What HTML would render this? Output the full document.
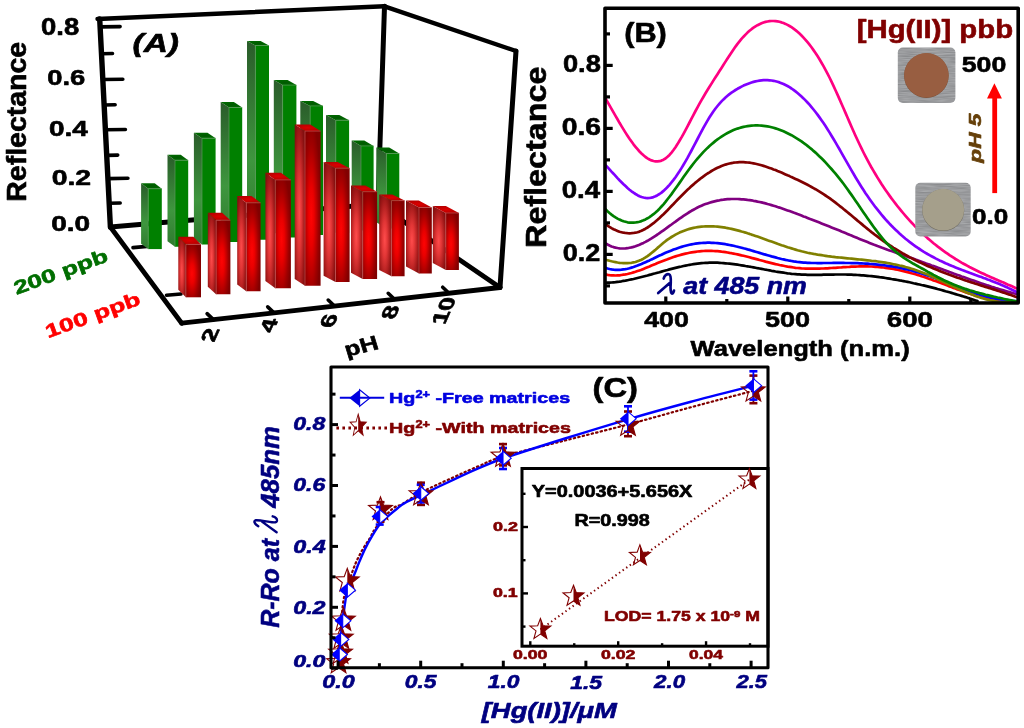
<!DOCTYPE html>
<html><head><meta charset="utf-8"><style>
html,body{margin:0;padding:0;background:#fff;width:1024px;height:728px;overflow:hidden}
svg{display:block;will-change:transform}
</style></head><body>
<svg width="1024" height="728" viewBox="0 0 1024 728">
<defs>
<radialGradient id="rf" cx="0.4" cy="0.55" r="0.62"><stop offset="0" stop-color="#ff0404"/><stop offset="0.3" stop-color="#ea0000"/><stop offset="0.75" stop-color="#a00000"/><stop offset="1" stop-color="#820000"/></radialGradient>
<radialGradient id="rl" cx="0.45" cy="0.55" r="0.62"><stop offset="0" stop-color="#ff4c4c"/><stop offset="0.35" stop-color="#e23636"/><stop offset="0.8" stop-color="#a01818"/><stop offset="1" stop-color="#841010"/></radialGradient>
<radialGradient id="rt" cx="0.5" cy="0.5" r="0.7"><stop offset="0" stop-color="#dc0000"/><stop offset="1" stop-color="#a80000"/></radialGradient>
<linearGradient id="gl" x1="0" y1="0" x2="0" y2="1"><stop offset="0" stop-color="#2a5c2a"/><stop offset="0.6" stop-color="#3e963e"/><stop offset="1" stop-color="#2f7a2f"/></linearGradient>
<radialGradient id="gt" cx="0.5" cy="0.5" r="0.7"><stop offset="0" stop-color="#005800"/><stop offset="1" stop-color="#007000"/></radialGradient>
</defs>
<line x1="99.7" y1="19" x2="110.4" y2="227" stroke="#000" stroke-width="5.4" stroke-linecap="round" />
<line x1="97.5" y1="19" x2="384.5" y2="6.3" stroke="#000" stroke-width="4.4" stroke-linecap="round" />
<line x1="384.5" y1="6.3" x2="516" y2="51" stroke="#000" stroke-width="4.4" stroke-linecap="round" />
<line x1="384.5" y1="6.3" x2="378" y2="204" stroke="#000" stroke-width="5.0" stroke-linecap="round" />
<line x1="516" y1="51" x2="500" y2="287.5" stroke="#000" stroke-width="5.0" stroke-linecap="round" />
<line x1="110.4" y1="227" x2="378" y2="204" stroke="#000" stroke-width="4.8" stroke-linecap="round" />
<line x1="378" y1="204" x2="500" y2="287.5" stroke="#000" stroke-width="4.8" stroke-linecap="round" />
<line x1="100.11" y1="26.9" x2="120.11" y2="26.6" stroke="#000" stroke-width="3.6" stroke-linecap="round" />
<line x1="102.81" y1="79.5" x2="122.81" y2="79.2" stroke="#000" stroke-width="3.6" stroke-linecap="round" />
<line x1="105.4" y1="129.8" x2="125.4" y2="129.5" stroke="#000" stroke-width="3.6" stroke-linecap="round" />
<line x1="107.91" y1="178.6" x2="127.91" y2="178.3" stroke="#000" stroke-width="3.6" stroke-linecap="round" />
<line x1="101.49" y1="53.75" x2="112.49" y2="53.45" stroke="#000" stroke-width="3.6" stroke-linecap="round" />
<line x1="104.12" y1="105" x2="115.12" y2="104.7" stroke="#000" stroke-width="3.6" stroke-linecap="round" />
<line x1="106.72" y1="155.4" x2="117.72" y2="155.1" stroke="#000" stroke-width="3.6" stroke-linecap="round" />
<line x1="109.18" y1="203.3" x2="120.18" y2="203" stroke="#000" stroke-width="3.6" stroke-linecap="round" />
<line x1="133" y1="247.6" x2="147" y2="246.4" stroke="#000" stroke-width="3.6" stroke-linecap="round" />
<line x1="166.5" y1="295.2" x2="181" y2="294" stroke="#000" stroke-width="3.6" stroke-linecap="round" />
<polygon points="141.1,183.3 148.2,188.7 148.2,249.09 141.1,243.69" fill="url(#gl)" />
<polygon points="148.2,188.7 161.8,188.7 161.8,249.09 148.2,249.09" fill="#008000" />
<polygon points="141.1,183.3 154.7,183.3 161.8,188.7 148.2,188.7" fill="url(#gt)" />
<polyline points="148.2,249.09 148.2,188.7 161.8,188.7" fill="none" stroke="#5a9a5a" stroke-width="0.7"/>
<polygon points="167.5,154.7 175,160.2 175,246.77 167.5,241.27" fill="url(#gl)" />
<polygon points="175,160.2 188.2,160.2 188.2,246.77 175,246.77" fill="#008000" />
<polygon points="167.5,154.7 180.7,154.7 188.2,160.2 175,160.2" fill="url(#gt)" />
<polyline points="175,246.77 175,160.2 188.2,160.2" fill="none" stroke="#5a9a5a" stroke-width="0.7"/>
<polygon points="193.9,132.7 202,138.2 202,244.4 193.9,238.9" fill="url(#gl)" />
<polygon points="202,138.2 215.6,138.2 215.6,244.4 202,244.4" fill="#008000" />
<polygon points="193.9,132.7 207.5,132.7 215.6,138.2 202,138.2" fill="url(#gt)" />
<polyline points="202,244.4 202,138.2 215.6,138.2" fill="none" stroke="#5a9a5a" stroke-width="0.7"/>
<polygon points="220.7,102 229,107.5 229,242.07 220.7,236.57" fill="url(#gl)" />
<polygon points="229,107.5 242.2,107.5 242.2,242.07 229,242.07" fill="#008000" />
<polygon points="220.7,102 233.9,102 242.2,107.5 229,107.5" fill="url(#gt)" />
<polyline points="229,242.07 229,107.5 242.2,107.5" fill="none" stroke="#5a9a5a" stroke-width="0.7"/>
<polygon points="247,41.1 255.4,45.5 255.4,239.76 247,235.36" fill="url(#gl)" />
<polygon points="255.4,45.5 269,45.5 269,239.76 255.4,239.76" fill="#008000" />
<polygon points="247,41.1 260.6,41.1 269,45.5 255.4,45.5" fill="url(#gt)" />
<polyline points="255.4,239.76 255.4,45.5 269,45.5" fill="none" stroke="#5a9a5a" stroke-width="0.7"/>
<polygon points="273.8,80 282.6,85.1 282.6,237.38 273.8,232.28" fill="url(#gl)" />
<polygon points="282.6,85.1 296.4,85.1 296.4,237.38 282.6,237.38" fill="#008000" />
<polygon points="273.8,80 287.6,80 296.4,85.1 282.6,85.1" fill="url(#gt)" />
<polyline points="282.6,237.38 282.6,85.1 296.4,85.1" fill="none" stroke="#5a9a5a" stroke-width="0.7"/>
<polygon points="300.3,100.9 310.1,105.9 310.1,235.03 300.3,230.03" fill="url(#gl)" />
<polygon points="310.1,105.9 323,105.9 323,235.03 310.1,235.03" fill="#008000" />
<polygon points="300.3,100.9 313.2,100.9 323,105.9 310.1,105.9" fill="url(#gt)" />
<polyline points="310.1,235.03 310.1,105.9 323,105.9" fill="none" stroke="#5a9a5a" stroke-width="0.7"/>
<polygon points="326,114.9 335.8,120.2 335.8,232.78 326,227.48" fill="url(#gl)" />
<polygon points="335.8,120.2 349.1,120.2 349.1,232.78 335.8,232.78" fill="#008000" />
<polygon points="326,114.9 339.3,114.9 349.1,120.2 335.8,120.2" fill="url(#gt)" />
<polyline points="335.8,232.78 335.8,120.2 349.1,120.2" fill="none" stroke="#5a9a5a" stroke-width="0.7"/>
<polygon points="351.7,140.6 361,145.9 361,230.61 351.7,225.31" fill="url(#gl)" />
<polygon points="361,145.9 373.6,145.9 373.6,230.61 361,230.61" fill="#008000" />
<polygon points="351.7,140.6 364.3,140.6 373.6,145.9 361,145.9" fill="url(#gt)" />
<polyline points="361,230.61 361,145.9 373.6,145.9" fill="none" stroke="#5a9a5a" stroke-width="0.7"/>
<polygon points="376.3,147.4 386.4,153.5 386.4,228.39 376.3,222.29" fill="url(#gl)" />
<polygon points="386.4,153.5 399.3,153.5 399.3,228.39 386.4,228.39" fill="#008000" />
<polygon points="376.3,147.4 389.2,147.4 399.3,153.5 386.4,153.5" fill="url(#gt)" />
<polyline points="386.4,228.39 386.4,153.5 399.3,153.5" fill="none" stroke="#5a9a5a" stroke-width="0.7"/>
<polygon points="178.3,236.8 185.9,244.4 185.9,297.3 178.3,289.7" fill="url(#rl)" />
<polygon points="185.9,244.4 201,244.4 201,297.3 185.9,297.3" fill="url(#rf)" />
<polygon points="178.3,236.8 193.4,236.8 201,244.4 185.9,244.4" fill="url(#rt)" />
<polyline points="185.9,297.3 185.9,244.4 201,244.4" fill="none" stroke="#c05050" stroke-width="0.7"/>
<polygon points="207.8,212.7 216.1,220.2 216.1,294.2 207.8,286.7" fill="url(#rl)" />
<polygon points="216.1,220.2 230.4,220.2 230.4,294.2 216.1,294.2" fill="url(#rf)" />
<polygon points="207.8,212.7 222.1,212.7 230.4,220.2 216.1,220.2" fill="url(#rt)" />
<polyline points="216.1,294.2 216.1,220.2 230.4,220.2" fill="none" stroke="#c05050" stroke-width="0.7"/>
<polygon points="237.2,196 246.3,202.8 246.3,291.2 237.2,284.4" fill="url(#rl)" />
<polygon points="246.3,202.8 260.6,202.8 260.6,291.2 246.3,291.2" fill="url(#rf)" />
<polygon points="237.2,196 251.5,196 260.6,202.8 246.3,202.8" fill="url(#rt)" />
<polyline points="246.3,291.2 246.3,202.8 260.6,202.8" fill="none" stroke="#c05050" stroke-width="0.7"/>
<polygon points="265.4,172.7 275.3,179.9 275.3,288.3 265.4,281.1" fill="url(#rl)" />
<polygon points="275.3,179.9 290.9,179.9 290.9,288.3 275.3,288.3" fill="url(#rf)" />
<polygon points="265.4,172.7 281,172.7 290.9,179.9 275.3,179.9" fill="url(#rt)" />
<polyline points="275.3,288.3 275.3,179.9 290.9,179.9" fill="none" stroke="#c05050" stroke-width="0.7"/>
<polygon points="294.7,124.4 305,131.1 305,285.8 294.7,279.1" fill="url(#rl)" />
<polygon points="305,131.1 320.6,131.1 320.6,285.8 305,285.8" fill="url(#rf)" />
<polygon points="294.7,124.4 310.3,124.4 320.6,131.1 305,131.1" fill="url(#rt)" />
<polyline points="305,285.8 305,131.1 320.6,131.1" fill="none" stroke="#c05050" stroke-width="0.7"/>
<polygon points="323.6,162 335.5,168.2 335.5,282 323.6,275.8" fill="url(#rl)" />
<polygon points="335.5,168.2 349.6,168.2 349.6,282 335.5,282" fill="url(#rf)" />
<polygon points="323.6,162 337.7,162 349.6,168.2 335.5,168.2" fill="url(#rt)" />
<polyline points="335.5,282 335.5,168.2 349.6,168.2" fill="none" stroke="#c05050" stroke-width="0.7"/>
<polygon points="351,185.5 362.7,191.7 362.7,279 351,272.8" fill="url(#rl)" />
<polygon points="362.7,191.7 377.1,191.7 377.1,279 362.7,279" fill="url(#rf)" />
<polygon points="351,185.5 365.4,185.5 377.1,191.7 362.7,191.7" fill="url(#rt)" />
<polyline points="362.7,279 362.7,191.7 377.1,191.7" fill="none" stroke="#c05050" stroke-width="0.7"/>
<polygon points="379.2,194.4 391.5,200.6 391.5,276.2 379.2,270" fill="url(#rl)" />
<polygon points="391.5,200.6 404.6,200.6 404.6,276.2 391.5,276.2" fill="url(#rf)" />
<polygon points="379.2,194.4 392.3,194.4 404.6,200.6 391.5,200.6" fill="url(#rt)" />
<polyline points="391.5,276.2 391.5,200.6 404.6,200.6" fill="none" stroke="#c05050" stroke-width="0.7"/>
<polygon points="406,200.6 419,207.5 419,273.4 406,266.5" fill="url(#rl)" />
<polygon points="419,207.5 431.8,207.5 431.8,273.4 419,273.4" fill="url(#rf)" />
<polygon points="406,200.6 418.8,200.6 431.8,207.5 419,207.5" fill="url(#rt)" />
<polyline points="419,273.4 419,207.5 431.8,207.5" fill="none" stroke="#c05050" stroke-width="0.7"/>
<polygon points="432.8,206.1 445.8,213 445.8,270 432.8,263.1" fill="url(#rl)" />
<polygon points="445.8,213 458.9,213 458.9,270 445.8,270" fill="url(#rf)" />
<polygon points="432.8,206.1 445.9,206.1 458.9,213 445.8,213" fill="url(#rt)" />
<polyline points="445.8,270 445.8,213 458.9,213" fill="none" stroke="#c05050" stroke-width="0.7"/>
<line x1="110.4" y1="227" x2="181.7" y2="323.2" stroke="#000" stroke-width="4.8" stroke-linecap="round" />
<line x1="181.7" y1="323.2" x2="500" y2="287.5" stroke="#000" stroke-width="4.8" stroke-linecap="round" />
<line x1="213.4" y1="319.64" x2="207.1" y2="313.64" stroke="#000" stroke-width="3.6" stroke-linecap="round" />
<line x1="274" y1="312.84" x2="267.7" y2="306.84" stroke="#000" stroke-width="3.6" stroke-linecap="round" />
<line x1="334.5" y1="306.06" x2="328.2" y2="300.06" stroke="#000" stroke-width="3.6" stroke-linecap="round" />
<line x1="394.5" y1="299.32" x2="388.2" y2="293.32" stroke="#000" stroke-width="3.6" stroke-linecap="round" />
<line x1="449" y1="293.21" x2="442.7" y2="287.21" stroke="#000" stroke-width="3.6" stroke-linecap="round" />
<text transform="translate(132.58,52.17) scale(1.3148,1)" font-size="25.4" font-weight="bold" font-style="italic" font-family='"Liberation Sans", sans-serif' fill="#000" stroke="#000" stroke-width="0.6" stroke-linejoin="round" >(A)</text>
<text transform="translate(41.08,35.27) scale(1.1835,1)" font-size="23.21" font-weight="bold" font-style="normal" font-family='"Liberation Sans", sans-serif' fill="#000" stroke="#000" stroke-width="0.6" stroke-linejoin="round" >0.8</text>
<text transform="translate(47.2,84.78) scale(1.2356,1)" font-size="22.17" font-weight="bold" font-style="normal" font-family='"Liberation Sans", sans-serif' fill="#000" stroke="#000" stroke-width="0.6" stroke-linejoin="round" >0.6</text>
<text transform="translate(49.06,135.91) scale(1.3120,1)" font-size="21.3" font-weight="bold" font-style="normal" font-family='"Liberation Sans", sans-serif' fill="#000" stroke="#000" stroke-width="0.6" stroke-linejoin="round" >0.4</text>
<text transform="translate(51.66,184.78) scale(1.2761,1)" font-size="22.25" font-weight="bold" font-style="normal" font-family='"Liberation Sans", sans-serif' fill="#000" stroke="#000" stroke-width="0.6" stroke-linejoin="round" >0.2</text>
<text transform="translate(51.18,231.28) scale(1.2589,1)" font-size="22.25" font-weight="bold" font-style="normal" font-family='"Liberation Sans", sans-serif' fill="#000" stroke="#000" stroke-width="0.6" stroke-linejoin="round" >0.0</text>
<text transform="translate(26.46,201.73) rotate(-90) scale(1.0092,1)" font-size="28.24" font-weight="bold" font-style="normal" font-family='"Liberation Sans", sans-serif' fill="#000" stroke="#000" stroke-width="0.6" stroke-linejoin="round">Reflectance</text>
<text transform="translate(61.2,273.2) rotate(-20) translate(-49.42,4.82) scale(1.3988,1)" font-size="18.72" font-weight="bold" font-style="normal" font-family='"Liberation Sans", sans-serif' fill="#006e00" stroke="#006e00" stroke-width="0.6" stroke-linejoin="round">200 ppb</text>
<text transform="translate(93.5,316.5) rotate(-20) translate(-50.08,4.82) scale(1.4083,1)" font-size="18.72" font-weight="bold" font-style="normal" font-family='"Liberation Sans", sans-serif' fill="#ff0000" stroke="#ff0000" stroke-width="0.6" stroke-linejoin="round">100 ppb</text>
<text transform="matrix(0.5288,-1.1876,0.9945,0.1045,213.98,342.38)" font-size="20.6" font-weight="bold" font-style="normal" font-family='"Liberation Sans", sans-serif' fill="#000" stroke="#000" stroke-width="0.6" stroke-linejoin="round">2</text>
<text transform="matrix(0.5288,-1.1876,0.9945,0.1045,272.79,332.95)" font-size="20.6" font-weight="bold" font-style="normal" font-family='"Liberation Sans", sans-serif' fill="#000" stroke="#000" stroke-width="0.6" stroke-linejoin="round">4</text>
<text transform="matrix(0.5288,-1.1876,0.9945,0.1045,332.65,328.33)" font-size="20.6" font-weight="bold" font-style="normal" font-family='"Liberation Sans", sans-serif' fill="#000" stroke="#000" stroke-width="0.6" stroke-linejoin="round">6</text>
<text transform="matrix(0.5288,-1.1876,0.9945,0.1045,394.35,319.73)" font-size="20.6" font-weight="bold" font-style="normal" font-family='"Liberation Sans", sans-serif' fill="#000" stroke="#000" stroke-width="0.6" stroke-linejoin="round">8</text>
<text transform="matrix(0.5288,-1.1876,0.9945,0.1045,444.71,325.07)" font-size="20.6" font-weight="bold" font-style="normal" font-family='"Liberation Sans", sans-serif' fill="#000" stroke="#000" stroke-width="0.6" stroke-linejoin="round">10</text>
<text transform="matrix(1.2062,-0.2874,0.2907,0.9568,346.86,356.68)" font-size="20.4" font-weight="bold" font-style="normal" font-family='"Liberation Sans", sans-serif' fill="#000" stroke="#000" stroke-width="0.6" stroke-linejoin="round">pH</text>
<clipPath id="cb"><rect x="605" y="8.2" width="413.20000000000005" height="294.8"/></clipPath>
<g clip-path="url(#cb)">
<path d="M605.5,282.8 L607.5,282.7 L609.5,282.6 L611.5,282.5 L613.5,282.3 L615.5,282.1 L617.5,281.8 L619.5,281.6 L621.5,281.3 L623.5,280.9 L625.5,280.6 L627.5,280.2 L629.5,279.8 L631.5,279.4 L633.5,279.0 L635.5,278.5 L637.5,278.0 L639.5,277.5 L641.5,277.0 L643.5,276.5 L645.5,276.0 L647.5,275.5 L649.5,274.9 L651.5,274.4 L653.5,273.8 L655.5,273.3 L657.5,272.7 L659.5,272.2 L661.5,271.6 L663.5,271.0 L665.5,270.5 L667.5,270.0 L669.5,269.4 L671.5,268.9 L673.5,268.4 L675.5,267.9 L677.5,267.4 L679.5,266.9 L681.5,266.5 L683.5,266.0 L685.5,265.6 L687.5,265.2 L689.5,264.8 L691.5,264.5 L693.5,264.2 L695.5,263.9 L697.5,263.6 L699.5,263.4 L701.5,263.2 L703.5,263.0 L705.5,262.9 L707.5,262.8 L709.5,262.7 L711.5,262.7 L713.5,262.7 L715.5,262.7 L717.5,262.7 L719.5,262.8 L721.5,263.0 L723.5,263.1 L725.5,263.3 L727.5,263.5 L729.5,263.7 L731.5,263.9 L733.5,264.1 L735.5,264.4 L737.5,264.7 L739.5,265.0 L741.5,265.3 L743.5,265.6 L745.5,266.0 L747.5,266.3 L749.5,266.7 L751.5,267.0 L753.5,267.4 L755.5,267.8 L757.5,268.2 L759.5,268.5 L761.5,268.9 L763.5,269.3 L765.5,269.7 L767.5,270.0 L769.5,270.4 L771.5,270.8 L773.5,271.1 L775.5,271.5 L777.5,271.8 L779.5,272.1 L781.5,272.4 L783.5,272.7 L785.5,273.0 L787.5,273.3 L789.5,273.5 L791.5,273.8 L793.5,274.0 L795.5,274.1 L797.5,274.3 L799.5,274.4 L801.5,274.6 L803.5,274.6 L805.5,274.7 L807.5,274.8 L809.5,274.8 L811.5,274.8 L813.5,274.8 L815.5,274.8 L817.5,274.8 L819.5,274.8 L821.5,274.8 L823.5,274.7 L825.5,274.7 L827.5,274.7 L829.5,274.6 L831.5,274.6 L833.5,274.6 L835.5,274.5 L837.5,274.5 L839.5,274.5 L841.5,274.5 L843.5,274.5 L845.5,274.5 L847.5,274.6 L849.5,274.6 L851.5,274.7 L853.5,274.8 L855.5,274.9 L857.5,275.0 L859.5,275.1 L861.5,275.3 L863.5,275.4 L865.5,275.6 L867.5,275.8 L869.5,276.0 L871.5,276.2 L873.5,276.4 L875.5,276.6 L877.5,276.9 L879.5,277.2 L881.5,277.4 L883.5,277.7 L885.5,278.0 L887.5,278.3 L889.5,278.6 L891.5,279.0 L893.5,279.3 L895.5,279.6 L897.5,280.0 L899.5,280.4 L901.5,280.7 L903.5,281.1 L905.5,281.5 L907.5,281.9 L909.5,282.3 L911.5,282.7 L913.5,283.2 L915.5,283.6 L917.5,284.1 L919.5,284.5 L921.5,285.0 L923.5,285.4 L925.5,285.9 L927.5,286.4 L929.5,286.9 L931.5,287.4 L933.5,287.9 L935.5,288.4 L937.5,289.0 L939.5,289.5 L941.5,290.0 L943.5,290.6 L945.5,291.2 L947.5,291.7 L949.5,292.3 L951.5,292.9 L953.5,293.5 L955.5,294.1 L957.5,294.7 L959.5,295.3 L961.5,295.9 L963.5,296.5 L965.5,297.1 L967.5,297.8 L969.5,298.4 L971.5,299.1 L973.5,299.7 L975.5,300.4 L977.5,301.1" fill="none" stroke="#000000" stroke-width="2.7" stroke-linejoin="round" stroke-linecap="round" />
<path d="M605.5,274.4 L607.5,274.8 L609.5,275.1 L611.5,275.3 L613.5,275.4 L615.5,275.5 L617.5,275.4 L619.5,275.3 L621.5,275.0 L623.5,274.7 L625.5,274.4 L627.5,274.0 L629.5,273.5 L631.5,273.0 L633.5,272.4 L635.5,271.8 L637.5,271.1 L639.5,270.4 L641.5,269.7 L643.5,268.9 L645.5,268.1 L647.5,267.3 L649.5,266.5 L651.5,265.6 L653.5,264.8 L655.5,264.0 L657.5,263.1 L659.5,262.3 L661.5,261.5 L663.5,260.7 L665.5,259.9 L667.5,259.2 L669.5,258.4 L671.5,257.7 L673.5,257.0 L675.5,256.4 L677.5,255.8 L679.5,255.2 L681.5,254.6 L683.5,254.1 L685.5,253.6 L687.5,253.2 L689.5,252.8 L691.5,252.4 L693.5,252.1 L695.5,251.8 L697.5,251.5 L699.5,251.3 L701.5,251.1 L703.5,251.0 L705.5,250.9 L707.5,250.8 L709.5,250.8 L711.5,250.9 L713.5,251.0 L715.5,251.1 L717.5,251.2 L719.5,251.4 L721.5,251.7 L723.5,251.9 L725.5,252.2 L727.5,252.5 L729.5,252.9 L731.5,253.2 L733.5,253.6 L735.5,254.0 L737.5,254.4 L739.5,254.9 L741.5,255.4 L743.5,255.8 L745.5,256.3 L747.5,256.8 L749.5,257.3 L751.5,257.9 L753.5,258.4 L755.5,258.9 L757.5,259.4 L759.5,260.0 L761.5,260.5 L763.5,261.0 L765.5,261.6 L767.5,262.1 L769.5,262.6 L771.5,263.1 L773.5,263.6 L775.5,264.1 L777.5,264.5 L779.5,265.0 L781.5,265.4 L783.5,265.8 L785.5,266.2 L787.5,266.6 L789.5,266.9 L791.5,267.2 L793.5,267.5 L795.5,267.8 L797.5,268.0 L799.5,268.2 L801.5,268.4 L803.5,268.5 L805.5,268.6 L807.5,268.7 L809.5,268.7 L811.5,268.7 L813.5,268.7 L815.5,268.7 L817.5,268.7 L819.5,268.6 L821.5,268.5 L823.5,268.5 L825.5,268.4 L827.5,268.3 L829.5,268.1 L831.5,268.0 L833.5,267.9 L835.5,267.8 L837.5,267.6 L839.5,267.5 L841.5,267.4 L843.5,267.2 L845.5,267.1 L847.5,267.0 L849.5,266.9 L851.5,266.7 L853.5,266.7 L855.5,266.6 L857.5,266.5 L859.5,266.4 L861.5,266.4 L863.5,266.4 L865.5,266.4 L867.5,266.4 L869.5,266.5 L871.5,266.5 L873.5,266.6 L875.5,266.8 L877.5,266.9 L879.5,267.1 L881.5,267.3 L883.5,267.5 L885.5,267.8 L887.5,268.1 L889.5,268.4 L891.5,268.7 L893.5,269.0 L895.5,269.4 L897.5,269.8 L899.5,270.2 L901.5,270.6 L903.5,271.1 L905.5,271.6 L907.5,272.1 L909.5,272.6 L911.5,273.2 L913.5,273.7 L915.5,274.3 L917.5,274.9 L919.5,275.5 L921.5,276.2 L923.5,276.8 L925.5,277.5 L927.5,278.2 L929.5,278.9 L931.5,279.6 L933.5,280.4 L935.5,281.1 L937.5,281.8 L939.5,282.6 L941.5,283.3 L943.5,284.1 L945.5,284.8 L947.5,285.6 L949.5,286.4 L951.5,287.1 L953.5,287.9 L955.5,288.6 L957.5,289.4 L959.5,290.1 L961.5,290.8 L963.5,291.5 L965.5,292.3 L967.5,293.0 L969.5,293.6 L971.5,294.3 L973.5,294.9 L975.5,295.6 L977.5,296.2 L979.5,296.8 L981.5,297.3 L983.5,297.9 L985.5,298.4 L987.5,298.9 L989.5,299.4 L991.5,299.8 L993.5,300.2 L995.5,300.6 L997.5,301.0 L999.5,301.3 L1001.5,301.5 L1003.5,301.8 L1005.5,302.0 L1007.5,302.1 L1009.5,302.3 L1011.5,302.4 L1013.5,302.4 L1015.5,302.4 L1016.5,302.4" fill="none" stroke="#ff0000" stroke-width="2.7" stroke-linejoin="round" stroke-linecap="round" />
<path d="M605.5,267.9 L607.5,268.5 L609.5,269.0 L611.5,269.4 L613.5,269.7 L615.5,269.8 L617.5,269.9 L619.5,269.8 L621.5,269.7 L623.5,269.4 L625.5,269.1 L627.5,268.7 L629.5,268.2 L631.5,267.6 L633.5,267.0 L635.5,266.3 L637.5,265.6 L639.5,264.8 L641.5,264.0 L643.5,263.1 L645.5,262.2 L647.5,261.3 L649.5,260.4 L651.5,259.4 L653.5,258.5 L655.5,257.5 L657.5,256.5 L659.5,255.6 L661.5,254.7 L663.5,253.7 L665.5,252.8 L667.5,252.0 L669.5,251.2 L671.5,250.4 L673.5,249.6 L675.5,248.9 L677.5,248.2 L679.5,247.5 L681.5,246.9 L683.5,246.3 L685.5,245.8 L687.5,245.3 L689.5,244.8 L691.5,244.4 L693.5,244.0 L695.5,243.7 L697.5,243.4 L699.5,243.2 L701.5,243.0 L703.5,242.9 L705.5,242.8 L707.5,242.7 L709.5,242.7 L711.5,242.8 L713.5,242.9 L715.5,243.0 L717.5,243.2 L719.5,243.4 L721.5,243.6 L723.5,243.9 L725.5,244.2 L727.5,244.6 L729.5,245.0 L731.5,245.4 L733.5,245.8 L735.5,246.3 L737.5,246.7 L739.5,247.2 L741.5,247.7 L743.5,248.3 L745.5,248.8 L747.5,249.4 L749.5,249.9 L751.5,250.5 L753.5,251.1 L755.5,251.7 L757.5,252.3 L759.5,252.9 L761.5,253.5 L763.5,254.1 L765.5,254.6 L767.5,255.2 L769.5,255.8 L771.5,256.4 L773.5,256.9 L775.5,257.4 L777.5,258.0 L779.5,258.5 L781.5,259.0 L783.5,259.4 L785.5,259.9 L787.5,260.3 L789.5,260.7 L791.5,261.0 L793.5,261.4 L795.5,261.7 L797.5,262.0 L799.5,262.2 L801.5,262.4 L803.5,262.6 L805.5,262.7 L807.5,262.8 L809.5,262.9 L811.5,263.0 L813.5,263.0 L815.5,263.0 L817.5,263.1 L819.5,263.1 L821.5,263.1 L823.5,263.0 L825.5,263.0 L827.5,263.0 L829.5,263.0 L831.5,263.0 L833.5,262.9 L835.5,262.9 L837.5,262.9 L839.5,262.9 L841.5,262.9 L843.5,262.9 L845.5,263.0 L847.5,263.0 L849.5,263.0 L851.5,263.1 L853.5,263.1 L855.5,263.2 L857.5,263.2 L859.5,263.3 L861.5,263.4 L863.5,263.5 L865.5,263.6 L867.5,263.7 L869.5,263.9 L871.5,264.0 L873.5,264.2 L875.5,264.4 L877.5,264.6 L879.5,264.8 L881.5,265.0 L883.5,265.2 L885.5,265.5 L887.5,265.8 L889.5,266.1 L891.5,266.4 L893.5,266.7 L895.5,267.0 L897.5,267.4 L899.5,267.8 L901.5,268.2 L903.5,268.6 L905.5,269.1 L907.5,269.5 L909.5,270.0 L911.5,270.5 L913.5,271.1 L915.5,271.6 L917.5,272.2 L919.5,272.8 L921.5,273.4 L923.5,274.1 L925.5,274.7 L927.5,275.4 L929.5,276.1 L931.5,276.8 L933.5,277.5 L935.5,278.3 L937.5,279.0 L939.5,279.8 L941.5,280.5 L943.5,281.3 L945.5,282.1 L947.5,282.8 L949.5,283.6 L951.5,284.4 L953.5,285.2 L955.5,286.0 L957.5,286.7 L959.5,287.5 L961.5,288.2 L963.5,289.0 L965.5,289.7 L967.5,290.5 L969.5,291.2 L971.5,291.9 L973.5,292.6 L975.5,293.3 L977.5,293.9 L979.5,294.6 L981.5,295.2 L983.5,295.8 L985.5,296.3 L987.5,296.9 L989.5,297.4 L991.5,297.9 L993.5,298.3 L995.5,298.8 L997.5,299.2 L999.5,299.5 L1001.5,299.9 L1003.5,300.2 L1005.5,300.4 L1007.5,300.6 L1009.5,300.8 L1011.5,301.0 L1013.5,301.1 L1015.5,301.1 L1016.5,301.1" fill="none" stroke="#0000ff" stroke-width="2.7" stroke-linejoin="round" stroke-linecap="round" />
<path d="M605.5,259.7 L607.5,260.2 L609.5,260.8 L611.5,261.3 L613.5,261.7 L615.5,262.1 L617.5,262.5 L619.5,262.8 L621.5,263.0 L623.5,263.2 L625.5,263.2 L627.5,263.2 L629.5,263.0 L631.5,262.8 L633.5,262.4 L635.5,262.0 L637.5,261.3 L639.5,260.6 L641.5,259.7 L643.5,258.6 L645.5,257.4 L647.5,256.1 L649.5,254.6 L651.5,253.0 L653.5,251.4 L655.5,249.7 L657.5,247.9 L659.5,246.2 L661.5,244.5 L663.5,242.8 L665.5,241.2 L667.5,239.7 L669.5,238.3 L671.5,237.0 L673.5,235.8 L675.5,234.6 L677.5,233.6 L679.5,232.6 L681.5,231.7 L683.5,230.9 L685.5,230.2 L687.5,229.5 L689.5,228.9 L691.5,228.4 L693.5,227.9 L695.5,227.5 L697.5,227.2 L699.5,226.9 L701.5,226.7 L703.5,226.5 L705.5,226.4 L707.5,226.3 L709.5,226.3 L711.5,226.3 L713.5,226.4 L715.5,226.5 L717.5,226.7 L719.5,226.9 L721.5,227.1 L723.5,227.4 L725.5,227.7 L727.5,228.1 L729.5,228.5 L731.5,228.9 L733.5,229.4 L735.5,229.9 L737.5,230.4 L739.5,230.9 L741.5,231.5 L743.5,232.0 L745.5,232.6 L747.5,233.3 L749.5,233.9 L751.5,234.6 L753.5,235.2 L755.5,235.9 L757.5,236.6 L759.5,237.3 L761.5,238.0 L763.5,238.7 L765.5,239.4 L767.5,240.2 L769.5,240.9 L771.5,241.6 L773.5,242.3 L775.5,243.0 L777.5,243.8 L779.5,244.5 L781.5,245.2 L783.5,245.8 L785.5,246.5 L787.5,247.2 L789.5,247.8 L791.5,248.4 L793.5,249.0 L795.5,249.6 L797.5,250.2 L799.5,250.7 L801.5,251.3 L803.5,251.7 L805.5,252.2 L807.5,252.7 L809.5,253.1 L811.5,253.5 L813.5,253.9 L815.5,254.2 L817.5,254.6 L819.5,254.9 L821.5,255.2 L823.5,255.5 L825.5,255.8 L827.5,256.1 L829.5,256.3 L831.5,256.6 L833.5,256.8 L835.5,257.1 L837.5,257.3 L839.5,257.5 L841.5,257.7 L843.5,257.9 L845.5,258.1 L847.5,258.3 L849.5,258.5 L851.5,258.7 L853.5,258.9 L855.5,259.1 L857.5,259.3 L859.5,259.5 L861.5,259.7 L863.5,259.9 L865.5,260.1 L867.5,260.3 L869.5,260.5 L871.5,260.8 L873.5,261.0 L875.5,261.2 L877.5,261.5 L879.5,261.8 L881.5,262.1 L883.5,262.4 L885.5,262.7 L887.5,263.0 L889.5,263.4 L891.5,263.8 L893.5,264.2 L895.5,264.6 L897.5,265.0 L899.5,265.5 L901.5,265.9 L903.5,266.4 L905.5,267.0 L907.5,267.5 L909.5,268.1 L911.5,268.7 L913.5,269.3 L915.5,270.0 L917.5,270.7 L919.5,271.4 L921.5,272.2 L923.5,273.0 L925.5,273.8 L927.5,274.6 L929.5,275.5 L931.5,276.3 L933.5,277.2 L935.5,278.1 L937.5,279.0 L939.5,280.0 L941.5,280.9 L943.5,281.8 L945.5,282.8 L947.5,283.7 L949.5,284.6 L951.5,285.6 L953.5,286.5 L955.5,287.4 L957.5,288.4 L959.5,289.3 L961.5,290.2 L963.5,291.0 L965.5,291.9 L967.5,292.7 L969.5,293.5 L971.5,294.3 L973.5,295.1 L975.5,295.9 L977.5,296.6 L979.5,297.2 L981.5,297.9 L983.5,298.5 L985.5,299.1 L987.5,299.6 L989.5,300.1 L991.5,300.5 L993.5,300.9 L995.5,301.3 L997.5,301.6 L999.5,301.8 L1001.5,302.0 L1003.5,302.1 L1005.5,302.2 L1007.5,302.2 L1009.5,302.2 L1010.0,302.1" fill="none" stroke="#808000" stroke-width="2.7" stroke-linejoin="round" stroke-linecap="round" />
<path d="M605.5,243.3 L607.5,244.5 L609.5,245.5 L611.5,246.4 L613.5,247.1 L615.5,247.6 L617.5,248.0 L619.5,248.3 L621.5,248.5 L623.5,248.5 L625.5,248.4 L627.5,248.2 L629.5,247.8 L631.5,247.4 L633.5,246.9 L635.5,246.3 L637.5,245.5 L639.5,244.7 L641.5,243.8 L643.5,242.9 L645.5,241.9 L647.5,240.8 L649.5,239.6 L651.5,238.4 L653.5,237.1 L655.5,235.8 L657.5,234.5 L659.5,233.1 L661.5,231.7 L663.5,230.3 L665.5,228.9 L667.5,227.4 L669.5,225.9 L671.5,224.5 L673.5,223.0 L675.5,221.6 L677.5,220.1 L679.5,218.7 L681.5,217.3 L683.5,215.9 L685.5,214.6 L687.5,213.3 L689.5,212.0 L691.5,210.8 L693.5,209.7 L695.5,208.6 L697.5,207.5 L699.5,206.6 L701.5,205.7 L703.5,204.8 L705.5,204.1 L707.5,203.4 L709.5,202.7 L711.5,202.1 L713.5,201.6 L715.5,201.1 L717.5,200.6 L719.5,200.3 L721.5,199.9 L723.5,199.7 L725.5,199.4 L727.5,199.2 L729.5,199.1 L731.5,199.0 L733.5,199.0 L735.5,199.0 L737.5,199.0 L739.5,199.1 L741.5,199.3 L743.5,199.4 L745.5,199.6 L747.5,199.9 L749.5,200.1 L751.5,200.4 L753.5,200.8 L755.5,201.1 L757.5,201.6 L759.5,202.0 L761.5,202.4 L763.5,202.9 L765.5,203.4 L767.5,204.0 L769.5,204.5 L771.5,205.1 L773.5,205.7 L775.5,206.3 L777.5,207.0 L779.5,207.6 L781.5,208.3 L783.5,209.0 L785.5,209.7 L787.5,210.4 L789.5,211.1 L791.5,211.8 L793.5,212.6 L795.5,213.3 L797.5,214.1 L799.5,214.8 L801.5,215.6 L803.5,216.4 L805.5,217.1 L807.5,217.9 L809.5,218.7 L811.5,219.4 L813.5,220.2 L815.5,221.0 L817.5,221.8 L819.5,222.6 L821.5,223.4 L823.5,224.2 L825.5,225.0 L827.5,225.8 L829.5,226.6 L831.5,227.4 L833.5,228.2 L835.5,229.0 L837.5,229.8 L839.5,230.6 L841.5,231.5 L843.5,232.3 L845.5,233.1 L847.5,233.9 L849.5,234.8 L851.5,235.6 L853.5,236.4 L855.5,237.2 L857.5,238.1 L859.5,238.9 L861.5,239.7 L863.5,240.5 L865.5,241.3 L867.5,242.1 L869.5,242.9 L871.5,243.7 L873.5,244.5 L875.5,245.2 L877.5,246.0 L879.5,246.7 L881.5,247.5 L883.5,248.2 L885.5,248.9 L887.5,249.7 L889.5,250.4 L891.5,251.1 L893.5,251.8 L895.5,252.5 L897.5,253.2 L899.5,253.9 L901.5,254.6 L903.5,255.3 L905.5,256.0 L907.5,256.7 L909.5,257.4 L911.5,258.1 L913.5,258.8 L915.5,259.6 L917.5,260.3 L919.5,261.0 L921.5,261.7 L923.5,262.4 L925.5,263.2 L927.5,263.9 L929.5,264.6 L931.5,265.4 L933.5,266.1 L935.5,266.8 L937.5,267.6 L939.5,268.3 L941.5,269.0 L943.5,269.8 L945.5,270.5 L947.5,271.2 L949.5,272.0 L951.5,272.7 L953.5,273.5 L955.5,274.2 L957.5,274.9 L959.5,275.6 L961.5,276.4 L963.5,277.1 L965.5,277.8 L967.5,278.5 L969.5,279.2 L971.5,279.9 L973.5,280.6 L975.5,281.3 L977.5,282.0 L979.5,282.7 L981.5,283.4 L983.5,284.1 L985.5,284.7 L987.5,285.4 L989.5,286.0 L991.5,286.7 L993.5,287.3 L995.5,288.0 L997.5,288.6 L999.5,289.2 L1001.5,289.8 L1003.5,290.4 L1005.5,291.0 L1007.5,291.6 L1009.5,292.1 L1011.5,292.7 L1013.5,293.3 L1015.5,293.8 L1016.5,294.1" fill="none" stroke="#800080" stroke-width="2.7" stroke-linejoin="round" stroke-linecap="round" />
<path d="M605.5,224.2 L607.5,225.6 L609.5,226.9 L611.5,228.1 L613.5,229.2 L615.5,230.1 L617.5,230.9 L619.5,231.7 L621.5,232.2 L623.5,232.7 L625.5,233.0 L627.5,233.2 L629.5,233.3 L631.5,233.2 L633.5,233.0 L635.5,232.7 L637.5,232.2 L639.5,231.6 L641.5,230.8 L643.5,229.8 L645.5,228.7 L647.5,227.5 L649.5,226.2 L651.5,224.7 L653.5,223.2 L655.5,221.5 L657.5,219.8 L659.5,218.0 L661.5,216.1 L663.5,214.2 L665.5,212.2 L667.5,210.2 L669.5,208.1 L671.5,206.0 L673.5,204.0 L675.5,201.9 L677.5,199.8 L679.5,197.7 L681.5,195.7 L683.5,193.7 L685.5,191.7 L687.5,189.8 L689.5,188.0 L691.5,186.1 L693.5,184.4 L695.5,182.6 L697.5,181.0 L699.5,179.4 L701.5,177.8 L703.5,176.3 L705.5,174.9 L707.5,173.5 L709.5,172.3 L711.5,171.0 L713.5,169.9 L715.5,168.8 L717.5,167.8 L719.5,166.9 L721.5,166.0 L723.5,165.3 L725.5,164.6 L727.5,164.0 L729.5,163.5 L731.5,163.1 L733.5,162.7 L735.5,162.5 L737.5,162.3 L739.5,162.2 L741.5,162.2 L743.5,162.2 L745.5,162.3 L747.5,162.5 L749.5,162.7 L751.5,163.0 L753.5,163.4 L755.5,163.8 L757.5,164.2 L759.5,164.7 L761.5,165.3 L763.5,165.9 L765.5,166.5 L767.5,167.2 L769.5,167.9 L771.5,168.6 L773.5,169.4 L775.5,170.1 L777.5,171.0 L779.5,171.8 L781.5,172.6 L783.5,173.5 L785.5,174.4 L787.5,175.3 L789.5,176.1 L791.5,177.1 L793.5,178.0 L795.5,178.9 L797.5,179.8 L799.5,180.8 L801.5,181.8 L803.5,182.8 L805.5,183.8 L807.5,184.8 L809.5,185.9 L811.5,187.0 L813.5,188.1 L815.5,189.2 L817.5,190.4 L819.5,191.6 L821.5,192.9 L823.5,194.2 L825.5,195.5 L827.5,196.8 L829.5,198.2 L831.5,199.7 L833.5,201.1 L835.5,202.6 L837.5,204.2 L839.5,205.8 L841.5,207.3 L843.5,209.0 L845.5,210.6 L847.5,212.2 L849.5,213.9 L851.5,215.5 L853.5,217.2 L855.5,218.9 L857.5,220.6 L859.5,222.2 L861.5,223.9 L863.5,225.6 L865.5,227.2 L867.5,228.9 L869.5,230.5 L871.5,232.1 L873.5,233.6 L875.5,235.2 L877.5,236.7 L879.5,238.2 L881.5,239.7 L883.5,241.1 L885.5,242.5 L887.5,243.8 L889.5,245.2 L891.5,246.5 L893.5,247.8 L895.5,249.0 L897.5,250.2 L899.5,251.4 L901.5,252.6 L903.5,253.8 L905.5,254.9 L907.5,256.0 L909.5,257.1 L911.5,258.1 L913.5,259.2 L915.5,260.2 L917.5,261.2 L919.5,262.2 L921.5,263.1 L923.5,264.1 L925.5,265.0 L927.5,265.9 L929.5,266.8 L931.5,267.6 L933.5,268.5 L935.5,269.3 L937.5,270.1 L939.5,270.9 L941.5,271.7 L943.5,272.5 L945.5,273.3 L947.5,274.0 L949.5,274.8 L951.5,275.5 L953.5,276.2 L955.5,276.9 L957.5,277.7 L959.5,278.3 L961.5,279.0 L963.5,279.7 L965.5,280.4 L967.5,281.1 L969.5,281.7 L971.5,282.4 L973.5,283.0 L975.5,283.7 L977.5,284.3 L979.5,285.0 L981.5,285.6 L983.5,286.2 L985.5,286.9 L987.5,287.5 L989.5,288.1 L991.5,288.8 L993.5,289.4 L995.5,290.0 L997.5,290.7 L999.5,291.3 L1001.5,292.0 L1003.5,292.6 L1005.5,293.3 L1007.5,294.0 L1009.5,294.6 L1011.5,295.3 L1013.5,296.0 L1015.5,296.7 L1016.5,297.0" fill="none" stroke="#800000" stroke-width="2.7" stroke-linejoin="round" stroke-linecap="round" />
<path d="M605.5,209.3 L607.5,211.2 L609.5,213.0 L611.5,214.6 L613.5,216.1 L615.5,217.4 L617.5,218.6 L619.5,219.6 L621.5,220.5 L623.5,221.3 L625.5,221.8 L627.5,222.3 L629.5,222.6 L631.5,222.7 L633.5,222.7 L635.5,222.5 L637.5,222.2 L639.5,221.7 L641.5,221.1 L643.5,220.3 L645.5,219.4 L647.5,218.3 L649.5,217.1 L651.5,215.7 L653.5,214.2 L655.5,212.5 L657.5,210.7 L659.5,208.7 L661.5,206.5 L663.5,204.3 L665.5,201.9 L667.5,199.3 L669.5,196.7 L671.5,194.1 L673.5,191.3 L675.5,188.5 L677.5,185.7 L679.5,182.9 L681.5,180.0 L683.5,177.1 L685.5,174.3 L687.5,171.5 L689.5,168.8 L691.5,166.1 L693.5,163.5 L695.5,161.0 L697.5,158.6 L699.5,156.3 L701.5,154.1 L703.5,151.9 L705.5,149.9 L707.5,147.9 L709.5,146.0 L711.5,144.3 L713.5,142.6 L715.5,140.9 L717.5,139.4 L719.5,138.0 L721.5,136.6 L723.5,135.3 L725.5,134.1 L727.5,133.0 L729.5,132.0 L731.5,131.0 L733.5,130.1 L735.5,129.3 L737.5,128.6 L739.5,128.0 L741.5,127.4 L743.5,126.9 L745.5,126.5 L747.5,126.1 L749.5,125.8 L751.5,125.6 L753.5,125.5 L755.5,125.4 L757.5,125.4 L759.5,125.5 L761.5,125.6 L763.5,125.8 L765.5,126.1 L767.5,126.4 L769.5,126.8 L771.5,127.3 L773.5,127.8 L775.5,128.4 L777.5,129.0 L779.5,129.7 L781.5,130.5 L783.5,131.3 L785.5,132.2 L787.5,133.2 L789.5,134.2 L791.5,135.2 L793.5,136.4 L795.5,137.6 L797.5,138.8 L799.5,140.1 L801.5,141.4 L803.5,142.9 L805.5,144.3 L807.5,145.9 L809.5,147.5 L811.5,149.1 L813.5,150.9 L815.5,152.6 L817.5,154.5 L819.5,156.4 L821.5,158.3 L823.5,160.3 L825.5,162.4 L827.5,164.6 L829.5,166.8 L831.5,169.0 L833.5,171.3 L835.5,173.7 L837.5,176.2 L839.5,178.7 L841.5,181.2 L843.5,183.8 L845.5,186.5 L847.5,189.3 L849.5,192.1 L851.5,194.9 L853.5,197.8 L855.5,200.7 L857.5,203.6 L859.5,206.6 L861.5,209.5 L863.5,212.4 L865.5,215.3 L867.5,218.2 L869.5,221.1 L871.5,223.9 L873.5,226.7 L875.5,229.4 L877.5,232.0 L879.5,234.6 L881.5,237.1 L883.5,239.5 L885.5,241.8 L887.5,244.0 L889.5,246.0 L891.5,248.0 L893.5,249.8 L895.5,251.5 L897.5,253.2 L899.5,254.7 L901.5,256.2 L903.5,257.6 L905.5,258.9 L907.5,260.2 L909.5,261.4 L911.5,262.6 L913.5,263.8 L915.5,264.9 L917.5,266.0 L919.5,267.1 L921.5,268.2 L923.5,269.3 L925.5,270.4 L927.5,271.6 L929.5,272.7 L931.5,273.8 L933.5,274.9 L935.5,275.9 L937.5,277.0 L939.5,278.0 L941.5,279.0 L943.5,280.0 L945.5,280.9 L947.5,281.8 L949.5,282.7 L951.5,283.6 L953.5,284.4 L955.5,285.2 L957.5,286.0 L959.5,286.7 L961.5,287.5 L963.5,288.2 L965.5,288.9 L967.5,289.5 L969.5,290.2 L971.5,290.8 L973.5,291.4 L975.5,292.0 L977.5,292.5 L979.5,293.1 L981.5,293.6 L983.5,294.1 L985.5,294.7 L987.5,295.1 L989.5,295.6 L991.5,296.1 L993.5,296.6 L995.5,297.0 L997.5,297.5 L999.5,297.9 L1001.5,298.3 L1003.5,298.8 L1005.5,299.2 L1007.5,299.6 L1009.5,300.0 L1011.5,300.4 L1013.5,300.8 L1015.5,301.2 L1016.5,301.4" fill="none" stroke="#008000" stroke-width="2.7" stroke-linejoin="round" stroke-linecap="round" />
<path d="M605.5,165.1 L607.5,167.2 L609.5,169.4 L611.5,171.6 L613.5,173.7 L615.5,175.9 L617.5,178.1 L619.5,180.2 L621.5,182.2 L623.5,184.2 L625.5,186.1 L627.5,188.0 L629.5,189.7 L631.5,191.3 L633.5,192.7 L635.5,194.0 L637.5,195.2 L639.5,196.2 L641.5,197.0 L643.5,197.5 L645.5,197.9 L647.5,198.1 L649.5,198.0 L651.5,197.6 L653.5,197.1 L655.5,196.3 L657.5,195.2 L659.5,194.0 L661.5,192.6 L663.5,190.9 L665.5,189.1 L667.5,187.0 L669.5,184.8 L671.5,182.4 L673.5,179.9 L675.5,177.2 L677.5,174.3 L679.5,171.3 L681.5,168.1 L683.5,164.8 L685.5,161.4 L687.5,157.9 L689.5,154.2 L691.5,150.5 L693.5,146.7 L695.5,142.8 L697.5,139.0 L699.5,135.2 L701.5,131.4 L703.5,127.7 L705.5,124.1 L707.5,120.6 L709.5,117.3 L711.5,114.2 L713.5,111.2 L715.5,108.5 L717.5,106.0 L719.5,103.6 L721.5,101.4 L723.5,99.4 L725.5,97.5 L727.5,95.8 L729.5,94.1 L731.5,92.6 L733.5,91.3 L735.5,90.0 L737.5,88.8 L739.5,87.7 L741.5,86.6 L743.5,85.6 L745.5,84.7 L747.5,83.9 L749.5,83.2 L751.5,82.5 L753.5,81.9 L755.5,81.4 L757.5,81.0 L759.5,80.6 L761.5,80.4 L763.5,80.2 L765.5,80.2 L767.5,80.2 L769.5,80.3 L771.5,80.5 L773.5,80.8 L775.5,81.3 L777.5,81.8 L779.5,82.4 L781.5,83.2 L783.5,84.0 L785.5,85.0 L787.5,86.0 L789.5,87.2 L791.5,88.5 L793.5,89.9 L795.5,91.4 L797.5,93.0 L799.5,94.7 L801.5,96.5 L803.5,98.4 L805.5,100.4 L807.5,102.5 L809.5,104.7 L811.5,107.1 L813.5,109.5 L815.5,112.0 L817.5,114.6 L819.5,117.4 L821.5,120.2 L823.5,123.1 L825.5,126.1 L827.5,129.2 L829.5,132.4 L831.5,135.7 L833.5,139.0 L835.5,142.4 L837.5,145.9 L839.5,149.3 L841.5,152.8 L843.5,156.4 L845.5,159.9 L847.5,163.4 L849.5,166.9 L851.5,170.4 L853.5,173.8 L855.5,177.2 L857.5,180.5 L859.5,183.8 L861.5,187.0 L863.5,190.1 L865.5,193.2 L867.5,196.1 L869.5,199.0 L871.5,201.8 L873.5,204.5 L875.5,207.2 L877.5,209.7 L879.5,212.2 L881.5,214.7 L883.5,217.0 L885.5,219.3 L887.5,221.5 L889.5,223.7 L891.5,225.8 L893.5,227.8 L895.5,229.7 L897.5,231.6 L899.5,233.5 L901.5,235.3 L903.5,237.0 L905.5,238.7 L907.5,240.3 L909.5,241.9 L911.5,243.4 L913.5,244.9 L915.5,246.3 L917.5,247.7 L919.5,249.0 L921.5,250.3 L923.5,251.6 L925.5,252.8 L927.5,254.0 L929.5,255.1 L931.5,256.2 L933.5,257.3 L935.5,258.4 L937.5,259.4 L939.5,260.4 L941.5,261.3 L943.5,262.2 L945.5,263.2 L947.5,264.0 L949.5,264.9 L951.5,265.8 L953.5,266.6 L955.5,267.4 L957.5,268.2 L959.5,269.0 L961.5,269.8 L963.5,270.5 L965.5,271.3 L967.5,272.0 L969.5,272.8 L971.5,273.5 L973.5,274.2 L975.5,275.0 L977.5,275.7 L979.5,276.4 L981.5,277.1 L983.5,277.9 L985.5,278.6 L987.5,279.4 L989.5,280.1 L991.5,280.9 L993.5,281.7 L995.5,282.5 L997.5,283.3 L999.5,284.1 L1001.5,285.0 L1003.5,285.8 L1005.5,286.7 L1007.5,287.6 L1009.5,288.6 L1011.5,289.5 L1013.5,290.5 L1015.5,291.5 L1016.5,292.0" fill="none" stroke="#8000ff" stroke-width="2.7" stroke-linejoin="round" stroke-linecap="round" />
<path d="M605.5,98.3 L607.5,101.8 L609.5,105.3 L611.5,108.9 L613.5,112.4 L615.5,115.9 L617.5,119.3 L619.5,122.8 L621.5,126.1 L623.5,129.4 L625.5,132.6 L627.5,135.7 L629.5,138.7 L631.5,141.5 L633.5,144.3 L635.5,146.8 L637.5,149.2 L639.5,151.5 L641.5,153.5 L643.5,155.3 L645.5,157.0 L647.5,158.3 L649.5,159.5 L651.5,160.4 L653.5,161.0 L655.5,161.4 L657.5,161.4 L659.5,161.2 L661.5,160.6 L663.5,159.7 L665.5,158.5 L667.5,156.8 L669.5,154.9 L671.5,152.6 L673.5,150.0 L675.5,147.2 L677.5,144.1 L679.5,140.8 L681.5,137.4 L683.5,133.8 L685.5,130.1 L687.5,126.3 L689.5,122.5 L691.5,118.7 L693.5,114.8 L695.5,111.0 L697.5,107.3 L699.5,103.7 L701.5,100.1 L703.5,96.7 L705.5,93.3 L707.5,90.0 L709.5,86.8 L711.5,83.6 L713.5,80.4 L715.5,77.3 L717.5,74.2 L719.5,71.0 L721.5,67.9 L723.5,64.8 L725.5,61.6 L727.5,58.5 L729.5,55.4 L731.5,52.4 L733.5,49.5 L735.5,46.6 L737.5,43.9 L739.5,41.4 L741.5,38.9 L743.5,36.7 L745.5,34.6 L747.5,32.6 L749.5,30.8 L751.5,29.2 L753.5,27.7 L755.5,26.4 L757.5,25.2 L759.5,24.2 L761.5,23.3 L763.5,22.5 L765.5,21.9 L767.5,21.5 L769.5,21.2 L771.5,21.0 L773.5,21.0 L775.5,21.2 L777.5,21.4 L779.5,21.8 L781.5,22.4 L783.5,23.1 L785.5,23.9 L787.5,24.9 L789.5,26.0 L791.5,27.2 L793.5,28.6 L795.5,30.1 L797.5,31.8 L799.5,33.6 L801.5,35.5 L803.5,37.6 L805.5,39.8 L807.5,42.2 L809.5,44.7 L811.5,47.3 L813.5,50.1 L815.5,53.0 L817.5,56.1 L819.5,59.3 L821.5,62.7 L823.5,66.2 L825.5,69.8 L827.5,73.6 L829.5,77.5 L831.5,81.6 L833.5,85.8 L835.5,90.2 L837.5,94.6 L839.5,99.1 L841.5,103.7 L843.5,108.2 L845.5,112.9 L847.5,117.5 L849.5,122.1 L851.5,126.7 L853.5,131.2 L855.5,135.7 L857.5,140.0 L859.5,144.3 L861.5,148.4 L863.5,152.5 L865.5,156.4 L867.5,160.2 L869.5,163.9 L871.5,167.5 L873.5,170.9 L875.5,174.3 L877.5,177.6 L879.5,180.8 L881.5,184.0 L883.5,187.0 L885.5,189.9 L887.5,192.8 L889.5,195.6 L891.5,198.4 L893.5,201.0 L895.5,203.6 L897.5,206.2 L899.5,208.7 L901.5,211.1 L903.5,213.5 L905.5,215.8 L907.5,218.1 L909.5,220.3 L911.5,222.5 L913.5,224.6 L915.5,226.7 L917.5,228.7 L919.5,230.7 L921.5,232.6 L923.5,234.5 L925.5,236.3 L927.5,238.1 L929.5,239.8 L931.5,241.5 L933.5,243.2 L935.5,244.8 L937.5,246.4 L939.5,247.9 L941.5,249.4 L943.5,250.9 L945.5,252.3 L947.5,253.7 L949.5,255.1 L951.5,256.4 L953.5,257.7 L955.5,259.0 L957.5,260.2 L959.5,261.4 L961.5,262.6 L963.5,263.7 L965.5,264.8 L967.5,265.9 L969.5,267.0 L971.5,268.0 L973.5,269.0 L975.5,270.0 L977.5,271.0 L979.5,272.0 L981.5,272.9 L983.5,273.8 L985.5,274.8 L987.5,275.7 L989.5,276.6 L991.5,277.4 L993.5,278.3 L995.5,279.2 L997.5,280.1 L999.5,280.9 L1001.5,281.8 L1003.5,282.6 L1005.5,283.5 L1007.5,284.4 L1009.5,285.2 L1011.5,286.1 L1013.5,287.0 L1015.5,287.9 L1016.5,288.3" fill="none" stroke="#ff0080" stroke-width="2.7" stroke-linejoin="round" stroke-linecap="round" />
</g>
<filter id="brush" x="0" y="0" width="1" height="1" color-interpolation-filters="sRGB"><feTurbulence type="fractalNoise" baseFrequency="0.06 0.9" numOctaves="2" seed="3" result="n"/><feColorMatrix in="n" type="matrix" values="0 0 0 0 0.62  0 0 0 0 0.63  0 0 0 0 0.64  0 0 0 0 1" result="base"/><feColorMatrix in="n" type="matrix" values="0.2 0 0 0 0.505  0.2 0 0 0 0.51  0.2 0 0 0 0.52  0 0 0 0 1"/><feComposite in2="SourceAlpha" operator="in"/></filter>
<g>
<rect x="897.8" y="47.5" width="57.6" height="55.4" rx="5" fill="#a9aaac" filter="url(#brush)"/>
<circle cx="926.4" cy="75.6" r="22.3" fill="#7a5038"/>
<circle cx="926.4" cy="75.2" r="22.2" fill="#985e41"/>
<rect x="915.3" y="182.8" width="55.4" height="53.7" rx="5" fill="#a9aaac" filter="url(#brush)"/>
<circle cx="943.2" cy="210.1" r="21" fill="#6e6a5e"/>
<circle cx="943.2" cy="209.7" r="20.9" fill="#a59f8b"/>
</g>
<rect x="992.3" y="97.5" width="4.8" height="95.6" fill="#ff0000"/>
<polygon points="987,98.6 1001.9,98.6 994.4,83.2" fill="#ff0000" />
<rect x="605" y="8.2" width="413.20000000000005" height="294.8" fill="none" stroke="#000" stroke-width="3.6" stroke-linejoin="round"/>
<line x1="605" y1="254.4" x2="612.7" y2="254.4" stroke="#000" stroke-width="3.2" stroke-linecap="butt" />
<line x1="605" y1="191.4" x2="612.7" y2="191.4" stroke="#000" stroke-width="3.2" stroke-linecap="butt" />
<line x1="605" y1="128.4" x2="612.7" y2="128.4" stroke="#000" stroke-width="3.2" stroke-linecap="butt" />
<line x1="605" y1="65.4" x2="612.7" y2="65.4" stroke="#000" stroke-width="3.2" stroke-linecap="butt" />
<line x1="605" y1="285.9" x2="610" y2="285.9" stroke="#000" stroke-width="3.2" stroke-linecap="butt" />
<line x1="605" y1="222.9" x2="610" y2="222.9" stroke="#000" stroke-width="3.2" stroke-linecap="butt" />
<line x1="605" y1="159.9" x2="610" y2="159.9" stroke="#000" stroke-width="3.2" stroke-linecap="butt" />
<line x1="605" y1="96.9" x2="610" y2="96.9" stroke="#000" stroke-width="3.2" stroke-linecap="butt" />
<line x1="605" y1="33.9" x2="610" y2="33.9" stroke="#000" stroke-width="3.2" stroke-linecap="butt" />
<line x1="665.8" y1="303" x2="665.8" y2="296.5" stroke="#000" stroke-width="3.2" stroke-linecap="butt" />
<line x1="787.8" y1="303" x2="787.8" y2="296.5" stroke="#000" stroke-width="3.2" stroke-linecap="butt" />
<line x1="909.8" y1="303" x2="909.8" y2="296.5" stroke="#000" stroke-width="3.2" stroke-linecap="butt" />
<line x1="726.8" y1="303" x2="726.8" y2="299" stroke="#000" stroke-width="3.2" stroke-linecap="butt" />
<line x1="848.8" y1="303" x2="848.8" y2="299" stroke="#000" stroke-width="3.2" stroke-linecap="butt" />
<line x1="970.8" y1="303" x2="970.8" y2="299" stroke="#000" stroke-width="3.2" stroke-linecap="butt" />
<text transform="translate(624.14,42.34) scale(1.0809,1)" font-size="28.47" font-weight="bold" font-style="normal" font-family='"Liberation Sans", sans-serif' fill="#000" stroke="#000" stroke-width="0.6" stroke-linejoin="round" >(B)</text>
<text transform="translate(562.91,72.14) scale(1.1167,1)" font-size="24.42" font-weight="bold" font-style="normal" font-family='"Liberation Sans", sans-serif' fill="#000" stroke="#000" stroke-width="0.6" stroke-linejoin="round" >0.8</text>
<text transform="translate(561.67,135.14) scale(1.1583,1)" font-size="24.42" font-weight="bold" font-style="normal" font-family='"Liberation Sans", sans-serif' fill="#000" stroke="#000" stroke-width="0.6" stroke-linejoin="round" >0.6</text>
<text transform="translate(561.69,198.14) scale(1.1325,1)" font-size="24.42" font-weight="bold" font-style="normal" font-family='"Liberation Sans", sans-serif' fill="#000" stroke="#000" stroke-width="0.6" stroke-linejoin="round" >0.4</text>
<text transform="translate(562.72,261.14) scale(1.1065,1)" font-size="24.42" font-weight="bold" font-style="normal" font-family='"Liberation Sans", sans-serif' fill="#000" stroke="#000" stroke-width="0.6" stroke-linejoin="round" >0.2</text>
<text transform="translate(644.15,327.21) scale(1.1700,1)" font-size="22.9" font-weight="bold" font-style="normal" font-family='"Liberation Sans", sans-serif' fill="#000" stroke="#000" stroke-width="0.6" stroke-linejoin="round" >400</text>
<text transform="translate(764.94,327.21) scale(1.1810,1)" font-size="22.9" font-weight="bold" font-style="normal" font-family='"Liberation Sans", sans-serif' fill="#000" stroke="#000" stroke-width="0.6" stroke-linejoin="round" >500</text>
<text transform="translate(886.78,327.21) scale(1.2067,1)" font-size="22.9" font-weight="bold" font-style="normal" font-family='"Liberation Sans", sans-serif' fill="#000" stroke="#000" stroke-width="0.6" stroke-linejoin="round" >600</text>
<text transform="translate(690.5,355.86) scale(1.1584,1)" font-size="22.07" font-weight="bold" font-style="normal" font-family='"Liberation Sans", sans-serif' fill="#000" stroke="#000" stroke-width="0.6" stroke-linejoin="round" >Wavelength (n.m.)</text>
<text transform="translate(546.39,247.92) rotate(-90) scale(1.1245,1)" font-size="28.73" font-weight="bold" font-style="normal" font-family='"Liberation Sans", sans-serif' fill="#000" stroke="#000" stroke-width="0.6" stroke-linejoin="round">Reflectance</text>
<path d="M663.7,278.6 C664.3,275.3 667.3,273.5 669.2,274.4 C671.3,275.5 670.9,279.5 670.7,283.5 C670.4,287.5 670.3,291.5 671.6,293.3 C672.6,294.2 673.6,292.3 674,290.6 M669.4,283.2 L658.2,293.1" fill="none" stroke="#000080" stroke-width="2.7" stroke-linecap="round" stroke-linejoin="round"/>
<text transform="translate(683.31,294.32) scale(1.1358,1)" font-size="23.58" font-weight="bold" font-style="italic" font-family='"Liberation Sans", sans-serif' fill="#000080" stroke="#000080" stroke-width="0.6" stroke-linejoin="round" >at 485 nm</text>
<text transform="translate(856.69,37.62) scale(1.1096,1)" font-size="26.46" font-weight="bold" font-style="normal" font-family='"Liberation Sans", sans-serif' fill="#800000" stroke="#800000" stroke-width="0.6" stroke-linejoin="round" >[Hg(II)] pbb</text>
<text transform="translate(961.76,72.21) scale(1.1863,1)" font-size="22.54" font-weight="bold" font-style="normal" font-family='"Liberation Sans", sans-serif' fill="#000" stroke="#000" stroke-width="0.6" stroke-linejoin="round" >500</text>
<text transform="translate(972.08,224.27) scale(1.1414,1)" font-size="22.87" font-weight="bold" font-style="normal" font-family='"Liberation Sans", sans-serif' fill="#000" stroke="#000" stroke-width="0.6" stroke-linejoin="round" >0.0</text>
<text transform="translate(981.21,162.65) rotate(-90) scale(1.4298,1)" font-size="15.84" font-weight="bold" font-style="italic" font-family='"Liberation Sans", sans-serif' fill="#66400a" stroke="#66400a" stroke-width="0.6" stroke-linejoin="round">pH 5</text>
<path d="M338.6,662.5 C338.7,660.08 338.87,653.42 339.2,648 C339.53,642.58 339.88,638 340.6,630 C341.32,622 342.35,607 343.5,600 C344.65,593 346.48,591.32 347.5,588 C348.52,584.68 348.32,584.05 349.6,580.1 C350.88,576.15 353.07,569.35 355.2,564.3 C357.33,559.25 359.97,554.13 362.4,549.8 C364.83,545.47 367.6,541.9 369.8,538.3 C372,534.7 371.95,533.02 375.6,528.2 C379.25,523.38 387.25,513.43 391.7,509.4 C396.15,505.37 397.33,506.87 402.3,504 C407.27,501.13 412.95,496.67 421.5,492.2 C430.05,487.73 444.13,481.52 453.6,477.2 C463.07,472.88 470.07,469.75 478.3,466.3 C486.53,462.85 488.55,460.8 503,456.5 C517.45,452.2 544.17,445.83 565,440.5 C585.83,435.17 607.17,430 628,424.5 C648.83,419 669.1,413.12 690,407.5 C710.9,401.88 742.83,393.58 753.4,390.8" fill="none" stroke="#800000" stroke-width="2.2" stroke-linejoin="round" stroke-linecap="round" stroke-dasharray="1.4,3.2" stroke-linecap="butt"/>
<path d="M339.2,654.5 C339.43,651.98 340.02,645.02 340.6,639.4 C341.18,633.78 341.58,629 342.7,620.8 C343.82,612.6 345.45,597.7 347.3,590.2 C349.15,582.7 351.77,580.6 353.8,575.8 C355.83,571 357.58,565.97 359.5,561.4 C361.42,556.83 363.13,552.73 365.3,548.4 C367.47,544.07 370.1,539.37 372.5,535.4 C374.9,531.43 377.05,527.85 379.7,524.6 C382.35,521.35 385.52,518.55 388.4,515.9 C391.28,513.25 394.23,510.87 397,508.7 C399.77,506.53 400.92,505.2 405,502.9 C409.08,500.6 413.4,498.78 421.5,494.9 C429.6,491.02 444.13,484.02 453.6,479.6 C463.07,475.18 470.07,471.92 478.3,468.4 C486.53,464.88 488.55,463.48 503,458.5 C517.45,453.52 544.17,445.03 565,438.5 C585.83,431.97 607.17,425.38 628,419.3 C648.83,413.22 669.1,407.6 690,402 C710.9,396.4 742.83,388.42 753.4,385.7" fill="none" stroke="#0000ff" stroke-width="2.4" stroke-linejoin="round" stroke-linecap="round" />
<line x1="380.5" y1="502.2" x2="380.5" y2="521.7" stroke="#800000" stroke-width="1.8" stroke-linecap="butt" />
<line x1="376.5" y1="502.2" x2="384.5" y2="502.2" stroke="#800000" stroke-width="2.6" stroke-linecap="butt" />
<line x1="376.5" y1="521.7" x2="384.5" y2="521.7" stroke="#800000" stroke-width="2.6" stroke-linecap="butt" />
<line x1="421" y1="482.7" x2="421" y2="504.9" stroke="#800000" stroke-width="1.8" stroke-linecap="butt" />
<line x1="417" y1="482.7" x2="425" y2="482.7" stroke="#800000" stroke-width="2.6" stroke-linecap="butt" />
<line x1="417" y1="504.9" x2="425" y2="504.9" stroke="#800000" stroke-width="2.6" stroke-linecap="butt" />
<line x1="503" y1="444.1" x2="503" y2="465.4" stroke="#800000" stroke-width="1.8" stroke-linecap="butt" />
<line x1="499" y1="444.1" x2="507" y2="444.1" stroke="#800000" stroke-width="2.6" stroke-linecap="butt" />
<line x1="499" y1="465.4" x2="507" y2="465.4" stroke="#800000" stroke-width="2.6" stroke-linecap="butt" />
<line x1="628" y1="411.5" x2="628" y2="436.2" stroke="#800000" stroke-width="1.8" stroke-linecap="butt" />
<line x1="624" y1="411.5" x2="632" y2="411.5" stroke="#800000" stroke-width="2.6" stroke-linecap="butt" />
<line x1="624" y1="436.2" x2="632" y2="436.2" stroke="#800000" stroke-width="2.6" stroke-linecap="butt" />
<line x1="753.4" y1="375.6" x2="753.4" y2="403.2" stroke="#800000" stroke-width="1.8" stroke-linecap="butt" />
<line x1="749.4" y1="375.6" x2="757.4" y2="375.6" stroke="#800000" stroke-width="2.6" stroke-linecap="butt" />
<line x1="749.4" y1="403.2" x2="757.4" y2="403.2" stroke="#800000" stroke-width="2.6" stroke-linecap="butt" />
<line x1="379.7" y1="507" x2="379.7" y2="524.6" stroke="#0000ff" stroke-width="1.8" stroke-linecap="butt" />
<line x1="375.7" y1="507" x2="383.7" y2="507" stroke="#0000ff" stroke-width="2.6" stroke-linecap="butt" />
<line x1="375.7" y1="524.6" x2="383.7" y2="524.6" stroke="#0000ff" stroke-width="2.6" stroke-linecap="butt" />
<line x1="420.7" y1="484.8" x2="420.7" y2="502.4" stroke="#0000ff" stroke-width="1.8" stroke-linecap="butt" />
<line x1="416.7" y1="484.8" x2="424.7" y2="484.8" stroke="#0000ff" stroke-width="2.6" stroke-linecap="butt" />
<line x1="416.7" y1="502.4" x2="424.7" y2="502.4" stroke="#0000ff" stroke-width="2.6" stroke-linecap="butt" />
<line x1="503" y1="448" x2="503" y2="469" stroke="#0000ff" stroke-width="1.8" stroke-linecap="butt" />
<line x1="499" y1="448" x2="507" y2="448" stroke="#0000ff" stroke-width="2.6" stroke-linecap="butt" />
<line x1="499" y1="469" x2="507" y2="469" stroke="#0000ff" stroke-width="2.6" stroke-linecap="butt" />
<line x1="628" y1="406.3" x2="628" y2="431.7" stroke="#0000ff" stroke-width="1.8" stroke-linecap="butt" />
<line x1="624" y1="406.3" x2="632" y2="406.3" stroke="#0000ff" stroke-width="2.6" stroke-linecap="butt" />
<line x1="624" y1="431.7" x2="632" y2="431.7" stroke="#0000ff" stroke-width="2.6" stroke-linecap="butt" />
<line x1="753.4" y1="371.3" x2="753.4" y2="399.6" stroke="#0000ff" stroke-width="1.8" stroke-linecap="butt" />
<line x1="749.4" y1="371.3" x2="757.4" y2="371.3" stroke="#0000ff" stroke-width="2.6" stroke-linecap="butt" />
<line x1="749.4" y1="399.6" x2="757.4" y2="399.6" stroke="#0000ff" stroke-width="2.6" stroke-linecap="butt" />
<clipPath id="sc199"><rect x="338.6" y="648" width="15.5" height="29"/></clipPath>
<polygon points="338.6,650 341.69,658.25 350.49,658.64 343.59,664.12 345.95,672.61 338.6,667.75 331.25,672.61 333.61,664.12 326.71,658.64 335.51,658.25" fill="#fff" fill-opacity="0" stroke="#800000" stroke-width="1.1" stroke-linejoin="miter"/>
<polygon points="338.6,650 341.69,658.25 350.49,658.64 343.59,664.12 345.95,672.61 338.6,667.75 331.25,672.61 333.61,664.12 326.71,658.64 335.51,658.25" fill="#800000" clip-path="url(#sc199)"/>
<clipPath id="sc202"><rect x="340.6" y="638.5" width="15.5" height="29"/></clipPath>
<polygon points="340.6,640.5 343.69,648.75 352.49,649.14 345.59,654.62 347.95,663.11 340.6,658.25 333.25,663.11 335.61,654.62 328.71,649.14 337.51,648.75" fill="#fff" fill-opacity="0" stroke="#800000" stroke-width="1.1" stroke-linejoin="miter"/>
<polygon points="340.6,640.5 343.69,648.75 352.49,649.14 345.59,654.62 347.95,663.11 340.6,658.25 333.25,663.11 335.61,654.62 328.71,649.14 337.51,648.75" fill="#800000" clip-path="url(#sc202)"/>
<clipPath id="sc205"><rect x="341.3" y="623.5" width="15.5" height="29"/></clipPath>
<polygon points="341.3,625.5 344.39,633.75 353.19,634.14 346.29,639.62 348.65,648.11 341.3,643.25 333.95,648.11 336.31,639.62 329.41,634.14 338.21,633.75" fill="#fff" fill-opacity="0" stroke="#800000" stroke-width="1.1" stroke-linejoin="miter"/>
<polygon points="341.3,625.5 344.39,633.75 353.19,634.14 346.29,639.62 348.65,648.11 341.3,643.25 333.95,648.11 336.31,639.62 329.41,634.14 338.21,633.75" fill="#800000" clip-path="url(#sc205)"/>
<clipPath id="sc208"><rect x="343.4" y="605.5" width="15.5" height="29"/></clipPath>
<polygon points="343.4,607.5 346.49,615.75 355.29,616.14 348.39,621.62 350.75,630.11 343.4,625.25 336.05,630.11 338.41,621.62 331.51,616.14 340.31,615.75" fill="#fff" fill-opacity="0" stroke="#800000" stroke-width="1.1" stroke-linejoin="miter"/>
<polygon points="343.4,607.5 346.49,615.75 355.29,616.14 348.39,621.62 350.75,630.11 343.4,625.25 336.05,630.11 338.41,621.62 331.51,616.14 340.31,615.75" fill="#800000" clip-path="url(#sc208)"/>
<clipPath id="sc211"><rect x="347.3" y="566.4" width="15.5" height="29"/></clipPath>
<polygon points="347.3,568.4 350.39,576.65 359.19,577.04 352.29,582.52 354.65,591.01 347.3,586.15 339.95,591.01 342.31,582.52 335.41,577.04 344.21,576.65" fill="#fff" fill-opacity="0" stroke="#800000" stroke-width="1.1" stroke-linejoin="miter"/>
<polygon points="347.3,568.4 350.39,576.65 359.19,577.04 352.29,582.52 354.65,591.01 347.3,586.15 339.95,591.01 342.31,582.52 335.41,577.04 344.21,576.65" fill="#800000" clip-path="url(#sc211)"/>
<clipPath id="sc214"><rect x="380.5" y="494.9" width="15.5" height="29"/></clipPath>
<polygon points="380.5,496.9 383.59,505.15 392.39,505.54 385.49,511.02 387.85,519.51 380.5,514.65 373.15,519.51 375.51,511.02 368.61,505.54 377.41,505.15" fill="#fff" fill-opacity="0" stroke="#800000" stroke-width="1.1" stroke-linejoin="miter"/>
<polygon points="380.5,496.9 383.59,505.15 392.39,505.54 385.49,511.02 387.85,519.51 380.5,514.65 373.15,519.51 375.51,511.02 368.61,505.54 377.41,505.15" fill="#800000" clip-path="url(#sc214)"/>
<clipPath id="sc217"><rect x="421" y="480.2" width="15.5" height="29"/></clipPath>
<polygon points="421,482.2 424.09,490.45 432.89,490.84 425.99,496.32 428.35,504.81 421,499.95 413.65,504.81 416.01,496.32 409.11,490.84 417.91,490.45" fill="#fff" fill-opacity="0" stroke="#800000" stroke-width="1.1" stroke-linejoin="miter"/>
<polygon points="421,482.2 424.09,490.45 432.89,490.84 425.99,496.32 428.35,504.81 421,499.95 413.65,504.81 416.01,496.32 409.11,490.84 417.91,490.45" fill="#800000" clip-path="url(#sc217)"/>
<clipPath id="sc220"><rect x="503" y="441.6" width="15.5" height="29"/></clipPath>
<polygon points="503,443.6 506.09,451.85 514.89,452.24 507.99,457.72 510.35,466.21 503,461.35 495.65,466.21 498.01,457.72 491.11,452.24 499.91,451.85" fill="#fff" fill-opacity="0" stroke="#800000" stroke-width="1.1" stroke-linejoin="miter"/>
<polygon points="503,443.6 506.09,451.85 514.89,452.24 507.99,457.72 510.35,466.21 503,461.35 495.65,466.21 498.01,457.72 491.11,452.24 499.91,451.85" fill="#800000" clip-path="url(#sc220)"/>
<clipPath id="sc223"><rect x="628" y="410.7" width="15.5" height="29"/></clipPath>
<polygon points="628,412.7 631.09,420.95 639.89,421.34 632.99,426.82 635.35,435.31 628,430.45 620.65,435.31 623.01,426.82 616.11,421.34 624.91,420.95" fill="#fff" fill-opacity="0" stroke="#800000" stroke-width="1.1" stroke-linejoin="miter"/>
<polygon points="628,412.7 631.09,420.95 639.89,421.34 632.99,426.82 635.35,435.31 628,430.45 620.65,435.31 623.01,426.82 616.11,421.34 624.91,420.95" fill="#800000" clip-path="url(#sc223)"/>
<clipPath id="sc226"><rect x="753.4" y="376.3" width="15.5" height="29"/></clipPath>
<polygon points="753.4,378.3 756.49,386.55 765.29,386.94 758.39,392.42 760.75,400.91 753.4,396.05 746.05,400.91 748.41,392.42 741.51,386.94 750.31,386.55" fill="#fff" fill-opacity="0" stroke="#800000" stroke-width="1.1" stroke-linejoin="miter"/>
<polygon points="753.4,378.3 756.49,386.55 765.29,386.94 758.39,392.42 760.75,400.91 753.4,396.05 746.05,400.91 748.41,392.42 741.51,386.94 750.31,386.55" fill="#800000" clip-path="url(#sc226)"/>
<polygon points="331,654.5 339.2,647.5 339.2,661.5" fill="#0000ff" />
<polygon points="339.2,647.5 347.4,654.5 339.2,661.5" fill="#fff" stroke="#0000ff" stroke-width="1.1"/>
<polygon points="332.4,639.4 340.6,632.4 340.6,646.4" fill="#0000ff" />
<polygon points="340.6,632.4 348.8,639.4 340.6,646.4" fill="#fff" stroke="#0000ff" stroke-width="1.1"/>
<polygon points="334.5,620.8 342.7,613.8 342.7,627.8" fill="#0000ff" />
<polygon points="342.7,613.8 350.9,620.8 342.7,627.8" fill="#fff" stroke="#0000ff" stroke-width="1.1"/>
<polygon points="339.1,590.2 347.3,583.2 347.3,597.2" fill="#0000ff" />
<polygon points="347.3,583.2 355.5,590.2 347.3,597.2" fill="#fff" stroke="#0000ff" stroke-width="1.1"/>
<polygon points="371.5,516.6 379.7,509.6 379.7,523.6" fill="#0000ff" />
<polygon points="379.7,509.6 387.9,516.6 379.7,523.6" fill="#fff" stroke="#0000ff" stroke-width="1.1"/>
<polygon points="412.5,493.5 420.7,486.5 420.7,500.5" fill="#0000ff" />
<polygon points="420.7,486.5 428.9,493.5 420.7,500.5" fill="#fff" stroke="#0000ff" stroke-width="1.1"/>
<polygon points="494.8,458.2 503,451.2 503,465.2" fill="#0000ff" />
<polygon points="503,451.2 511.2,458.2 503,465.2" fill="#fff" stroke="#0000ff" stroke-width="1.1"/>
<polygon points="619.8,418.7 628,411.7 628,425.7" fill="#0000ff" />
<polygon points="628,411.7 636.2,418.7 628,425.7" fill="#fff" stroke="#0000ff" stroke-width="1.1"/>
<polygon points="745.2,385.7 753.4,378.7 753.4,392.7" fill="#0000ff" />
<polygon points="753.4,378.7 761.6,385.7 753.4,392.7" fill="#fff" stroke="#0000ff" stroke-width="1.1"/>
<rect x="522" y="468.5" width="246" height="177.70000000000005" fill="#fff" stroke="#000" stroke-width="3"/>
<line x1="522" y1="593.4" x2="528" y2="593.4" stroke="#000" stroke-width="2.4" stroke-linecap="butt" />
<line x1="522" y1="527" x2="528" y2="527" stroke="#000" stroke-width="2.4" stroke-linecap="butt" />
<line x1="522" y1="626.6" x2="525.5" y2="626.6" stroke="#000" stroke-width="2.4" stroke-linecap="butt" />
<line x1="522" y1="560.2" x2="525.5" y2="560.2" stroke="#000" stroke-width="2.4" stroke-linecap="butt" />
<line x1="522" y1="493.8" x2="525.5" y2="493.8" stroke="#000" stroke-width="2.4" stroke-linecap="butt" />
<line x1="530.3" y1="646.2" x2="530.3" y2="641.2" stroke="#000" stroke-width="2.4" stroke-linecap="butt" />
<line x1="618.18" y1="646.2" x2="618.18" y2="641.2" stroke="#000" stroke-width="2.4" stroke-linecap="butt" />
<line x1="706.06" y1="646.2" x2="706.06" y2="641.2" stroke="#000" stroke-width="2.4" stroke-linecap="butt" />
<line x1="574.24" y1="646.2" x2="574.24" y2="643.2" stroke="#000" stroke-width="2.4" stroke-linecap="butt" />
<line x1="662.12" y1="646.2" x2="662.12" y2="643.2" stroke="#000" stroke-width="2.4" stroke-linecap="butt" />
<line x1="750" y1="646.2" x2="750" y2="643.2" stroke="#000" stroke-width="2.4" stroke-linecap="butt" />
<line x1="540.4" y1="629.5" x2="749.4" y2="479.5" stroke="#800000" stroke-width="2" stroke-linecap="butt" stroke-dasharray="1.4,3"/>
<clipPath id="sc260"><rect x="540.4" y="616.5" width="14" height="26"/></clipPath>
<polygon points="540.4,618.5 543.12,625.76 550.86,626.1 544.79,630.93 546.87,638.4 540.4,634.12 533.93,638.4 536.01,630.93 529.94,626.1 537.68,625.76" fill="#fff" fill-opacity="0" stroke="#800000" stroke-width="1.1" stroke-linejoin="miter"/>
<polygon points="540.4,618.5 543.12,625.76 550.86,626.1 544.79,630.93 546.87,638.4 540.4,634.12 533.93,638.4 536.01,630.93 529.94,626.1 537.68,625.76" fill="#800000" clip-path="url(#sc260)"/>
<clipPath id="sc263"><rect x="573.5" y="583.3" width="14" height="26"/></clipPath>
<polygon points="573.5,585.3 576.22,592.56 583.96,592.9 577.89,597.73 579.97,605.2 573.5,600.92 567.03,605.2 569.11,597.73 563.04,592.9 570.78,592.56" fill="#fff" fill-opacity="0" stroke="#800000" stroke-width="1.1" stroke-linejoin="miter"/>
<polygon points="573.5,585.3 576.22,592.56 583.96,592.9 577.89,597.73 579.97,605.2 573.5,600.92 567.03,605.2 569.11,597.73 563.04,592.9 570.78,592.56" fill="#800000" clip-path="url(#sc263)"/>
<clipPath id="sc266"><rect x="639.9" y="542.9" width="14" height="26"/></clipPath>
<polygon points="639.9,544.9 642.62,552.16 650.36,552.5 644.29,557.33 646.37,564.8 639.9,560.52 633.43,564.8 635.51,557.33 629.44,552.5 637.18,552.16" fill="#fff" fill-opacity="0" stroke="#800000" stroke-width="1.1" stroke-linejoin="miter"/>
<polygon points="639.9,544.9 642.62,552.16 650.36,552.5 644.29,557.33 646.37,564.8 639.9,560.52 633.43,564.8 635.51,557.33 629.44,552.5 637.18,552.16" fill="#800000" clip-path="url(#sc266)"/>
<clipPath id="sc269"><rect x="749.4" y="466.5" width="14" height="26"/></clipPath>
<polygon points="749.4,468.5 752.12,475.76 759.86,476.1 753.79,480.93 755.87,488.4 749.4,484.12 742.93,488.4 745.01,480.93 738.94,476.1 746.68,475.76" fill="#fff" fill-opacity="0" stroke="#800000" stroke-width="1.1" stroke-linejoin="miter"/>
<polygon points="749.4,468.5 752.12,475.76 759.86,476.1 753.79,480.93 755.87,488.4 749.4,484.12 742.93,488.4 745.01,480.93 738.94,476.1 746.68,475.76" fill="#800000" clip-path="url(#sc269)"/>
<text transform="translate(531.78,496.84) scale(1.2504,1)" font-size="15.94" font-weight="bold" font-style="normal" font-family='"Liberation Sans", sans-serif' fill="#000" stroke="#000" stroke-width="0.6" stroke-linejoin="round" >Y=0.0036+5.656X</text>
<text transform="translate(574.45,526.46) scale(1.2423,1)" font-size="15.94" font-weight="bold" font-style="normal" font-family='"Liberation Sans", sans-serif' fill="#000" stroke="#000" stroke-width="0.6" stroke-linejoin="round" >R=0.998</text>
<text transform="translate(604.05,621.1) scale(1.2100,1)" font-weight="bold" font-family='"Liberation Sans", sans-serif' fill="#800000" stroke="#800000" stroke-width="0.6" stroke-linejoin="round" ><tspan font-size="14.6" dy="0">LOD= 1.75 x 10</tspan><tspan font-size="9.49" dy="-4.2">-9</tspan><tspan font-size="14.6" dy="4.2"> M</tspan></text>
<text transform="translate(492.96,530.99) scale(1.4106,1)" font-size="12.76" font-weight="bold" font-style="normal" font-family='"Liberation Sans", sans-serif' fill="#800000" stroke="#800000" stroke-width="0.6" stroke-linejoin="round" >0.2</text>
<text transform="translate(492.97,596.81) scale(1.3946,1)" font-size="12.76" font-weight="bold" font-style="normal" font-family='"Liberation Sans", sans-serif' fill="#800000" stroke="#800000" stroke-width="0.6" stroke-linejoin="round" >0.1</text>
<text transform="translate(512.97,658.92) scale(1.3091,1)" font-size="13.55" font-weight="bold" font-style="normal" font-family='"Liberation Sans", sans-serif' fill="#800000" stroke="#800000" stroke-width="0.6" stroke-linejoin="round" >0.00</text>
<text transform="translate(600.97,658.92) scale(1.3091,1)" font-size="13.55" font-weight="bold" font-style="normal" font-family='"Liberation Sans", sans-serif' fill="#800000" stroke="#800000" stroke-width="0.6" stroke-linejoin="round" >0.02</text>
<text transform="translate(689.04,658.92) scale(1.2850,1)" font-size="13.55" font-weight="bold" font-style="normal" font-family='"Liberation Sans", sans-serif' fill="#800000" stroke="#800000" stroke-width="0.6" stroke-linejoin="round" >0.04</text>
<rect x="331" y="367" width="437" height="300.70000000000005" fill="none" stroke="#000" stroke-width="3.1" stroke-linejoin="round"/>
<line x1="331" y1="668.2" x2="338" y2="668.2" stroke="#000" stroke-width="3" stroke-linecap="butt" />
<line x1="331" y1="637.75" x2="335.5" y2="637.75" stroke="#000" stroke-width="3" stroke-linecap="butt" />
<line x1="331" y1="607.3" x2="338" y2="607.3" stroke="#000" stroke-width="3" stroke-linecap="butt" />
<line x1="331" y1="576.85" x2="335.5" y2="576.85" stroke="#000" stroke-width="3" stroke-linecap="butt" />
<line x1="331" y1="546.4" x2="338" y2="546.4" stroke="#000" stroke-width="3" stroke-linecap="butt" />
<line x1="331" y1="515.95" x2="335.5" y2="515.95" stroke="#000" stroke-width="3" stroke-linecap="butt" />
<line x1="331" y1="485.5" x2="338" y2="485.5" stroke="#000" stroke-width="3" stroke-linecap="butt" />
<line x1="331" y1="455.05" x2="335.5" y2="455.05" stroke="#000" stroke-width="3" stroke-linecap="butt" />
<line x1="331" y1="424.6" x2="338" y2="424.6" stroke="#000" stroke-width="3" stroke-linecap="butt" />
<line x1="331" y1="394.15" x2="335.5" y2="394.15" stroke="#000" stroke-width="3" stroke-linecap="butt" />
<line x1="338.1" y1="667.7" x2="338.1" y2="660.7" stroke="#000" stroke-width="3" stroke-linecap="butt" />
<line x1="379.4" y1="667.7" x2="379.4" y2="663.2" stroke="#000" stroke-width="3" stroke-linecap="butt" />
<line x1="420.7" y1="667.7" x2="420.7" y2="660.7" stroke="#000" stroke-width="3" stroke-linecap="butt" />
<line x1="462" y1="667.7" x2="462" y2="663.2" stroke="#000" stroke-width="3" stroke-linecap="butt" />
<line x1="503.3" y1="667.7" x2="503.3" y2="660.7" stroke="#000" stroke-width="3" stroke-linecap="butt" />
<line x1="544.6" y1="667.7" x2="544.6" y2="663.2" stroke="#000" stroke-width="3" stroke-linecap="butt" />
<line x1="585.9" y1="667.7" x2="585.9" y2="660.7" stroke="#000" stroke-width="3" stroke-linecap="butt" />
<line x1="627.2" y1="667.7" x2="627.2" y2="663.2" stroke="#000" stroke-width="3" stroke-linecap="butt" />
<line x1="668.5" y1="667.7" x2="668.5" y2="660.7" stroke="#000" stroke-width="3" stroke-linecap="butt" />
<line x1="709.8" y1="667.7" x2="709.8" y2="663.2" stroke="#000" stroke-width="3" stroke-linecap="butt" />
<line x1="751.1" y1="667.7" x2="751.1" y2="660.7" stroke="#000" stroke-width="3" stroke-linecap="butt" />
<polygon points="349.3,398 359.6,389.7 359.6,406.3" fill="#0000e0" />
<polygon points="359.6,389.7 369.9,398 359.6,406.3" fill="#fff" stroke="#0000e0" stroke-width="1.1"/>
<line x1="339.8" y1="397.8" x2="384.2" y2="397.8" stroke="#0000e0" stroke-width="2" stroke-linecap="butt" />
<line x1="336.4" y1="428.1" x2="387.6" y2="428.1" stroke="#800000" stroke-width="3" stroke-linecap="butt" stroke-dasharray="2.6,3.4"/>
<g transform="translate(358.2,425.8) scale(0.72,1) translate(-358.2,-425.8)">
<clipPath id="sc307"><rect x="358.2" y="412" width="14.8" height="27.6"/></clipPath>
<polygon points="358.2,414 361.11,421.79 369.42,422.15 362.91,427.33 365.14,435.35 358.2,430.76 351.26,435.35 353.49,427.33 346.98,422.15 355.29,421.79" fill="#fff" fill-opacity="0" stroke="#800000" stroke-width="1.1" stroke-linejoin="miter"/>
<polygon points="358.2,414 361.11,421.79 369.42,422.15 362.91,427.33 365.14,435.35 358.2,430.76 351.26,435.35 353.49,427.33 346.98,422.15 355.29,421.79" fill="#800000" clip-path="url(#sc307)"/>
</g>
<text transform="translate(389.12,402.6) scale(1.2800,1)" font-weight="bold" font-family='"Liberation Sans", sans-serif' fill="#0000e0" stroke="#0000e0" stroke-width="0.6" stroke-linejoin="round" ><tspan font-size="15.4" dy="0">Hg</tspan><tspan font-size="10.01" dy="-4.8">2+</tspan><tspan font-size="15.4" dy="4.8"> -Free matrices</tspan></text>
<text transform="translate(389.12,432.6) scale(1.2800,1)" font-weight="bold" font-family='"Liberation Sans", sans-serif' fill="#800000" stroke="#800000" stroke-width="0.6" stroke-linejoin="round" ><tspan font-size="15.4" dy="0">Hg</tspan><tspan font-size="10.01" dy="-4.8">2+</tspan><tspan font-size="15.4" dy="4.8"> -With matrices</tspan></text>
<text transform="translate(592.54,397.21) scale(1.1891,1)" font-size="27.55" font-weight="bold" font-style="normal" font-family='"Liberation Sans", sans-serif' fill="#000" stroke="#000" stroke-width="0.6" stroke-linejoin="round" >(C)</text>
<text transform="translate(293.26,430.38) scale(1.2598,1)" font-size="18.31" font-weight="bold" font-style="italic" font-family='"Liberation Sans", sans-serif' fill="#000080" stroke="#000080" stroke-width="0.6" stroke-linejoin="round" >0.8</text>
<text transform="translate(293.26,491.44) scale(1.2551,1)" font-size="18.31" font-weight="bold" font-style="italic" font-family='"Liberation Sans", sans-serif' fill="#000080" stroke="#000080" stroke-width="0.6" stroke-linejoin="round" >0.6</text>
<text transform="translate(293.25,552.5) scale(1.2739,1)" font-size="18.31" font-weight="bold" font-style="italic" font-family='"Liberation Sans", sans-serif' fill="#000080" stroke="#000080" stroke-width="0.6" stroke-linejoin="round" >0.4</text>
<text transform="translate(293.25,613.56) scale(1.2692,1)" font-size="18.31" font-weight="bold" font-style="italic" font-family='"Liberation Sans", sans-serif' fill="#000080" stroke="#000080" stroke-width="0.6" stroke-linejoin="round" >0.2</text>
<text transform="translate(293.2,667.46) scale(1.4228,1)" font-size="16.2" font-weight="bold" font-style="italic" font-family='"Liberation Sans", sans-serif' fill="#000080" stroke="#000080" stroke-width="0.6" stroke-linejoin="round" >0.0</text>
<text transform="translate(322.25,688.49) scale(1.2084,1)" font-size="19.27" font-weight="bold" font-style="italic" font-family='"Liberation Sans", sans-serif' fill="#000080" stroke="#000080" stroke-width="0.6" stroke-linejoin="round" >0.0</text>
<text transform="translate(404.71,688.49) scale(1.1863,1)" font-size="19.27" font-weight="bold" font-style="italic" font-family='"Liberation Sans", sans-serif' fill="#000080" stroke="#000080" stroke-width="0.6" stroke-linejoin="round" >0.5</text>
<text transform="translate(487.72,688.49) scale(1.1863,1)" font-size="19.27" font-weight="bold" font-style="italic" font-family='"Liberation Sans", sans-serif' fill="#000080" stroke="#000080" stroke-width="0.6" stroke-linejoin="round" >1.0</text>
<text transform="translate(570.15,688.5) scale(1.2512,1)" font-size="18.4" font-weight="bold" font-style="italic" font-family='"Liberation Sans", sans-serif' fill="#000080" stroke="#000080" stroke-width="0.6" stroke-linejoin="round" >1.5</text>
<text transform="translate(654.08,688.49) scale(1.1608,1)" font-size="19.27" font-weight="bold" font-style="italic" font-family='"Liberation Sans", sans-serif' fill="#000080" stroke="#000080" stroke-width="0.6" stroke-linejoin="round" >2.0</text>
<text transform="translate(736.51,688.49) scale(1.1404,1)" font-size="19.27" font-weight="bold" font-style="italic" font-family='"Liberation Sans", sans-serif' fill="#000080" stroke="#000080" stroke-width="0.6" stroke-linejoin="round" >2.5</text>
<text transform="translate(481.75,718.28) scale(1.2341,1)" font-size="22.2" font-weight="bold" font-style="italic" font-family='"Liberation Sans", sans-serif' fill="#000080" stroke="#000080" stroke-width="0.6" stroke-linejoin="round" >[Hg(II)]/μM</text>
<text transform="translate(278.85,627.76) rotate(-90) scale(0.9351,1)" font-size="26.69" font-weight="bold" font-style="italic" font-family='"Liberation Sans", sans-serif' fill="#000080" stroke="#000080" stroke-width="0.6" stroke-linejoin="round">R-Ro at</text>
<text transform="translate(278.8,507.71) rotate(-90) scale(0.9907,1)" font-size="25.97" font-weight="bold" font-style="italic" font-family='"Liberation Sans", sans-serif' fill="#000080" stroke="#000080" stroke-width="0.6" stroke-linejoin="round">485nm</text>
<path d="M272.7,516.3 C275.5,517 277.3,518.8 276.9,521 C276.5,522.8 274.5,522.5 272,522.2 C266,521.4 260,520 256,520.2 C253.5,520.5 253.8,523.5 258.3,526.2 M262.3,521.9 L276.6,532.3" fill="none" stroke="#000080" stroke-width="2.4" stroke-linecap="round" stroke-linejoin="round"/>
</svg>
</body></html>
